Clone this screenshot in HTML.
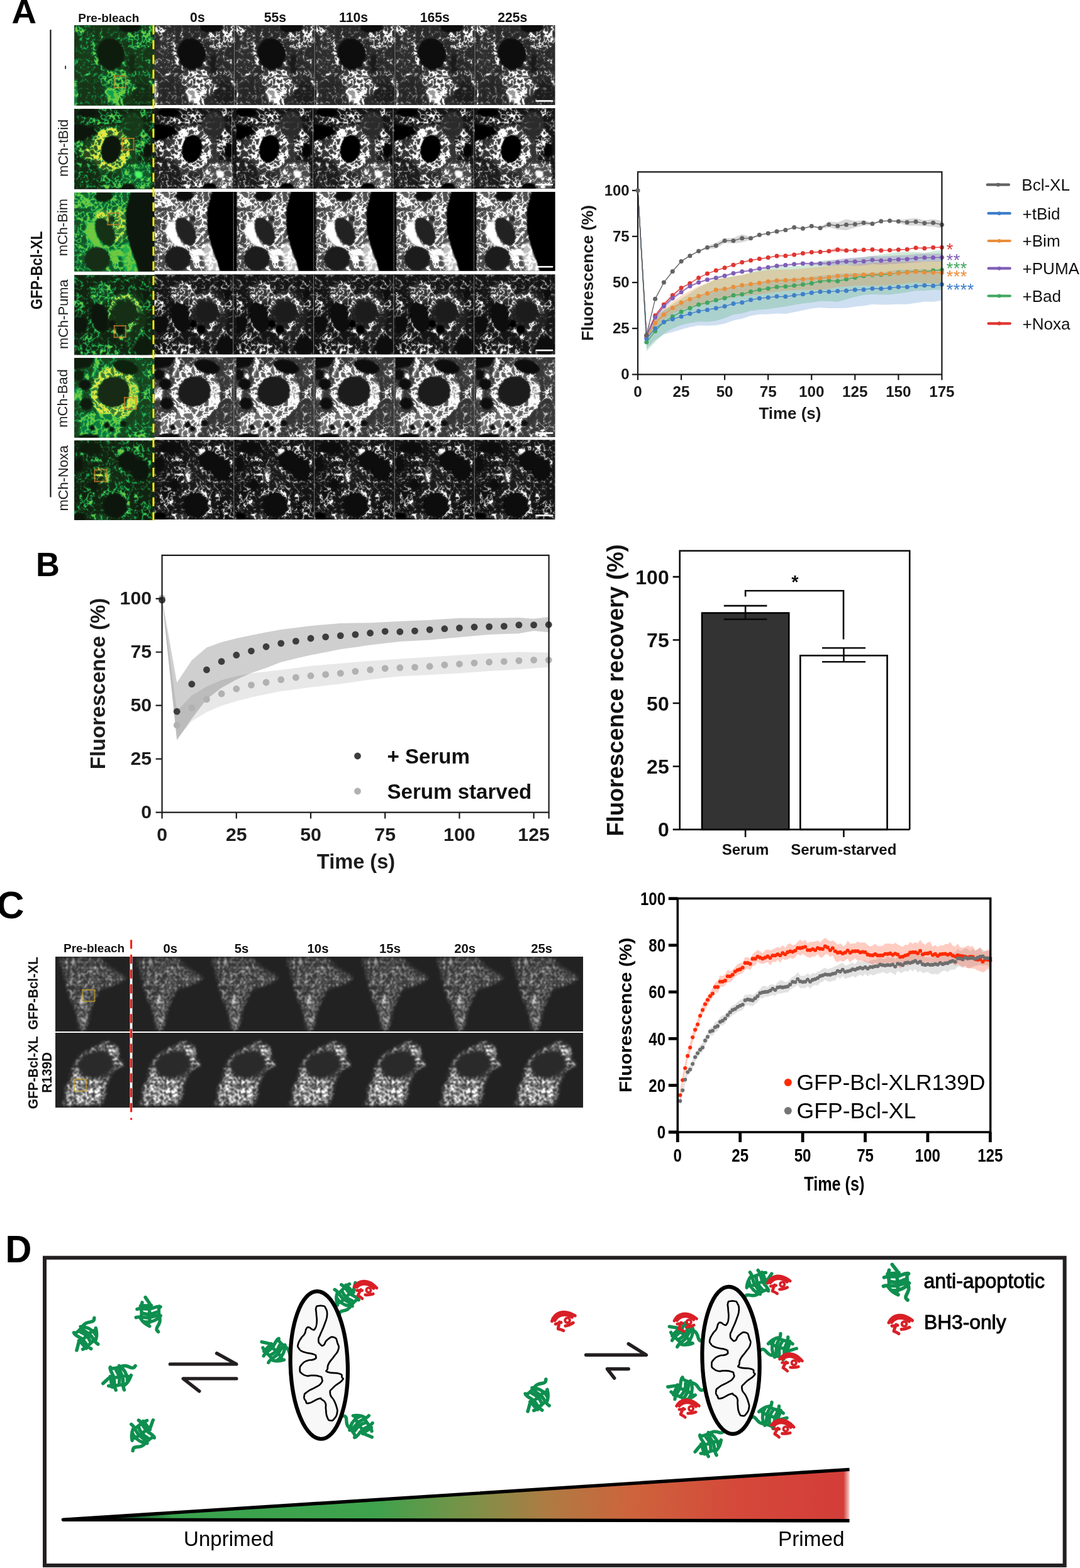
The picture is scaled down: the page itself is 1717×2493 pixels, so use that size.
<!DOCTYPE html>
<html lang="en">
<head>
<meta charset="utf-8">
<title>Figure: FRAP analysis of GFP-Bcl-XL</title>
<style>
html,body{margin:0;padding:0;background:#fff;}
body{width:1717px;height:2493px;overflow:hidden;}
svg{display:block;font-family:"Liberation Sans", Arial, Helvetica, sans-serif;}
</style>
</head>
<body>
<svg width="1717" height="2493" viewBox="0 0 1717 2493">
<defs>
<filter id="nb" x="-10%" y="-10%" width="120%" height="120%"><feGaussianBlur stdDeviation="1.1"/></filter>
<filter id="fa0" filterUnits="userSpaceOnUse" x="0" y="0" width="129.5" height="126.6" color-interpolation-filters="sRGB"><feGaussianBlur in="SourceGraphic" stdDeviation="1.6" result="D"/><feTurbulence type="fractalNoise" baseFrequency="0.09" numOctaves="2" seed="4"/><feComponentTransfer><feFuncR type="table" tableValues="0 0 0 0 0 0 0 0 0 0 0 0 0 0 0 0 0 0 0 0.5 1 0.5 0 0 0 0 0 0 0 0 0 0 0 0 0 0 0 0 0 0 0"/><feFuncG type="table" tableValues="0 0 0 0 0 0 0 0 0 0 0 0 0 0 0 0 0 0 0 0.5 1 0.5 0 0 0 0 0 0 0 0 0 0 0 0 0 0 0 0 0 0 0"/></feComponentTransfer><feColorMatrix type="matrix" values="1 1 0 0 0  1 1 0 0 0  1 1 0 0 0  0 0 0 0 1" result="T"/><feTurbulence type="fractalNoise" baseFrequency="0.035" numOctaves="2" seed="104"/><feColorMatrix type="matrix" values="1.32 0 0 0 0.34  1.32 0 0 0 0.34  1.32 0 0 0 0.34  0 0 0 0 1" result="N"/><feColorMatrix in="D" type="matrix" values="1 0 0 0 0  1 0 0 0 0  1 0 0 0 0  0 0 0 0 1" result="Dr"/><feComposite in="Dr" in2="N" operator="arithmetic" k1="1" k2="0" k3="0" k4="0" result="Dm"/><feColorMatrix in="D" type="matrix" values="0 1 0 0 0  0 1 0 0 0  0 1 0 0 0  0 0 0 0 1" result="Dg"/><feComposite in="T" in2="Dm" operator="arithmetic" k1="0" k2="4.5" k3="3.8" k4="-4.5" result="M"/><feGaussianBlur in="M" stdDeviation="0.9" result="Mb"/><feComposite in="M" in2="Mb" operator="arithmetic" k1="0" k2="0.4" k3="0.6" k4="0" result="M"/><feComposite in="M" in2="Dg" operator="arithmetic" k1="0" k2="1" k3="1" k4="0" result="L"/></filter>
<filter id="fg0" filterUnits="userSpaceOnUse" x="0" y="0" width="129.5" height="126.6" color-interpolation-filters="sRGB"><feGaussianBlur in="SourceGraphic" stdDeviation="1.6" result="D"/><feTurbulence type="fractalNoise" baseFrequency="0.09" numOctaves="2" seed="4"/><feComponentTransfer><feFuncR type="table" tableValues="0 0 0 0 0 0 0 0 0 0 0 0 0 0 0 0 0 0 0 0.5 1 0.5 0 0 0 0 0 0 0 0 0 0 0 0 0 0 0 0 0 0 0"/><feFuncG type="table" tableValues="0 0 0 0 0 0 0 0 0 0 0 0 0 0 0 0 0 0 0 0.5 1 0.5 0 0 0 0 0 0 0 0 0 0 0 0 0 0 0 0 0 0 0"/></feComponentTransfer><feColorMatrix type="matrix" values="1 1 0 0 0  1 1 0 0 0  1 1 0 0 0  0 0 0 0 1" result="T"/><feTurbulence type="fractalNoise" baseFrequency="0.035" numOctaves="2" seed="104"/><feColorMatrix type="matrix" values="1.32 0 0 0 0.34  1.32 0 0 0 0.34  1.32 0 0 0 0.34  0 0 0 0 1" result="N"/><feColorMatrix in="D" type="matrix" values="1 0 0 0 0  1 0 0 0 0  1 0 0 0 0  0 0 0 0 1" result="Dr"/><feComposite in="Dr" in2="N" operator="arithmetic" k1="1" k2="0" k3="0" k4="0" result="Dm"/><feColorMatrix in="D" type="matrix" values="0 1 0 0 0  0 1 0 0 0  0 1 0 0 0  0 0 0 0 1" result="Dg"/><feComposite in="T" in2="Dm" operator="arithmetic" k1="0" k2="4.5" k3="3.8" k4="-4.5" result="M"/><feGaussianBlur in="M" stdDeviation="0.9" result="Mb"/><feComposite in="M" in2="Mb" operator="arithmetic" k1="0" k2="0.4" k3="0.6" k4="0" result="M"/><feComposite in="M" in2="Dg" operator="arithmetic" k1="0" k2="1" k3="1" k4="0" result="L"/><feColorMatrix in="D" type="matrix" values="0 0 1 0 0  0 0 1 0 0  0 0 1 0 0  0 0 0 0 1" result="Db"/><feComposite in="L" in2="Db" operator="arithmetic" k1="1" k2="0" k3="0" k4="0" result="LY"/><feColorMatrix in="LY" type="matrix" values="0.55 0 0 0 0  0 0.14 0 0 0  0 0 0 0 0  0 0 0 0 1" result="LYr"/><feComponentTransfer in="L" result="Lg"><feFuncR type="table" tableValues="0.05 0.1 0.07 0.06 0.2 0.43"/><feFuncG type="table" tableValues="0.07 0.25 0.45 0.63 0.72 0.79"/><feFuncB type="table" tableValues="0.04 0.11 0.22 0.31 0.3 0.25"/></feComponentTransfer><feComposite in="Lg" in2="LYr" operator="arithmetic" k1="0" k2="1" k3="1" k4="0"/></filter>
<g id="ta0"><rect x="-4" y="-4" width="137.5" height="134.6" fill="#1c2900"/><ellipse cx="17.84" cy="51.92" rx="16.04" ry="36.89" fill="#3d2e00"/><ellipse cx="29.87" cy="108.06" rx="19.25" ry="20.05" fill="#212600"/><ellipse cx="111.67" cy="108.06" rx="18.44" ry="20.85" fill="#1a1c00"/><ellipse cx="94.03" cy="60.75" rx="7.22" ry="14.43" fill="#0d1a00"/><path d="M1 1.4 L28.27 1.4 L19.45 9.42 L9.02 15.84 L1 14.23Z" fill="#992e00"/><path d="M39.49 4.61 L44.31 18.24 L55.53 15.04 L67.56 13.43" fill="none" stroke="#a62900" stroke-width="4.41" stroke-linecap="round" stroke-linejoin="round"/><path d="M85.2 12.63 L106.05 9.42 L111.67 1.4 L127.71 1.4 L127.71 26.26 L111.67 41.5 L89.21 35.89Z" fill="#b82e00"/><ellipse cx="106.86" cy="49.52" rx="5.61" ry="3.21" fill="#cc3300" transform="rotate(-30 106.86 49.52)"/><ellipse cx="119.69" cy="57.54" rx="4.01" ry="4.81" fill="#b23300"/><path d="M97.23 76.78 L111.67 74.38 L124.5 83.2" fill="none" stroke="#cc2e00" stroke-width="4.81" stroke-linecap="round" stroke-linejoin="round"/><ellipse cx="125.3" cy="92.02" rx="2.41" ry="4.81" fill="#e66600"/><path d="M37.89 78.39 L67.56 67.96 L83.6 71.97 L88.41 84 L100.44 96.03 L95.63 104.85 L80.39 108.86 L77.99 128.11 L65.16 128.11 L49.12 100.04Z" fill="#eb3d00"/><ellipse cx="61.15" cy="110.47" rx="9.62" ry="12.03" fill="#ff9900" transform="rotate(-25 61.15 110.47)"/><path d="M29.87 15.04 L29.07 31.88 L34.68 49.52 L41.1 62.35 L49.12 68.77" fill="none" stroke="#f23300" stroke-width="4.81" stroke-linecap="round" stroke-linejoin="round"/><path d="M71.57 18.24 L79.59 33.48 L83.6 49.52 L81.19 61.55" fill="none" stroke="#b22900" stroke-width="2.25" stroke-linecap="round" stroke-linejoin="round"/><ellipse cx="80.39" cy="60.75" rx="3.21" ry="3.21" fill="#ff6600"/><ellipse cx="1.4" cy="106.46" rx="2.81" ry="22.45" fill="#ff8000"/><ellipse cx="58.74" cy="45.51" rx="21.25" ry="24.06" fill="#000900" transform="rotate(-12 58.74 45.51)"/><ellipse cx="90.02" cy="3.01" rx="16.84" ry="8.02" fill="#000800"/></g>
<g id="na0" filter="url(#nb)"><ellipse cx="58.74" cy="45.51" rx="21.25" ry="24.06" transform="rotate(-12 58.74 45.51)" fill="#090909"/><ellipse cx="90.02" cy="3.01" rx="16.84" ry="8.02" fill="#080808"/></g>
<g id="ng0" filter="url(#nb)"><ellipse cx="58.74" cy="45.51" rx="21.25" ry="24.06" transform="rotate(-12 58.74 45.51)" fill="#0f1a0d"/><ellipse cx="90.02" cy="3.01" rx="16.84" ry="8.02" fill="#0f190d"/></g>
<filter id="fa1" filterUnits="userSpaceOnUse" x="0" y="0" width="129.5" height="126.6" color-interpolation-filters="sRGB"><feGaussianBlur in="SourceGraphic" stdDeviation="1.6" result="D"/><feTurbulence type="fractalNoise" baseFrequency="0.09" numOctaves="2" seed="11"/><feComponentTransfer><feFuncR type="table" tableValues="0 0 0 0 0 0 0 0 0 0 0 0 0 0 0 0 0 0 0 0.5 1 0.5 0 0 0 0 0 0 0 0 0 0 0 0 0 0 0 0 0 0 0"/><feFuncG type="table" tableValues="0 0 0 0 0 0 0 0 0 0 0 0 0 0 0 0 0 0 0 0.5 1 0.5 0 0 0 0 0 0 0 0 0 0 0 0 0 0 0 0 0 0 0"/></feComponentTransfer><feColorMatrix type="matrix" values="1 1 0 0 0  1 1 0 0 0  1 1 0 0 0  0 0 0 0 1" result="T"/><feTurbulence type="fractalNoise" baseFrequency="0.035" numOctaves="2" seed="111"/><feColorMatrix type="matrix" values="1.32 0 0 0 0.34  1.32 0 0 0 0.34  1.32 0 0 0 0.34  0 0 0 0 1" result="N"/><feColorMatrix in="D" type="matrix" values="1 0 0 0 0  1 0 0 0 0  1 0 0 0 0  0 0 0 0 1" result="Dr"/><feComposite in="Dr" in2="N" operator="arithmetic" k1="1" k2="0" k3="0" k4="0" result="Dm"/><feColorMatrix in="D" type="matrix" values="0 1 0 0 0  0 1 0 0 0  0 1 0 0 0  0 0 0 0 1" result="Dg"/><feComposite in="T" in2="Dm" operator="arithmetic" k1="0" k2="4.5" k3="3.8" k4="-4.5" result="M"/><feGaussianBlur in="M" stdDeviation="0.9" result="Mb"/><feComposite in="M" in2="Mb" operator="arithmetic" k1="0" k2="0.4" k3="0.6" k4="0" result="M"/><feComposite in="M" in2="Dg" operator="arithmetic" k1="0" k2="1" k3="1" k4="0" result="L"/></filter>
<filter id="fg1" filterUnits="userSpaceOnUse" x="0" y="0" width="129.5" height="126.6" color-interpolation-filters="sRGB"><feGaussianBlur in="SourceGraphic" stdDeviation="1.6" result="D"/><feTurbulence type="fractalNoise" baseFrequency="0.09" numOctaves="2" seed="11"/><feComponentTransfer><feFuncR type="table" tableValues="0 0 0 0 0 0 0 0 0 0 0 0 0 0 0 0 0 0 0 0.5 1 0.5 0 0 0 0 0 0 0 0 0 0 0 0 0 0 0 0 0 0 0"/><feFuncG type="table" tableValues="0 0 0 0 0 0 0 0 0 0 0 0 0 0 0 0 0 0 0 0.5 1 0.5 0 0 0 0 0 0 0 0 0 0 0 0 0 0 0 0 0 0 0"/></feComponentTransfer><feColorMatrix type="matrix" values="1 1 0 0 0  1 1 0 0 0  1 1 0 0 0  0 0 0 0 1" result="T"/><feTurbulence type="fractalNoise" baseFrequency="0.035" numOctaves="2" seed="111"/><feColorMatrix type="matrix" values="1.32 0 0 0 0.34  1.32 0 0 0 0.34  1.32 0 0 0 0.34  0 0 0 0 1" result="N"/><feColorMatrix in="D" type="matrix" values="1 0 0 0 0  1 0 0 0 0  1 0 0 0 0  0 0 0 0 1" result="Dr"/><feComposite in="Dr" in2="N" operator="arithmetic" k1="1" k2="0" k3="0" k4="0" result="Dm"/><feColorMatrix in="D" type="matrix" values="0 1 0 0 0  0 1 0 0 0  0 1 0 0 0  0 0 0 0 1" result="Dg"/><feComposite in="T" in2="Dm" operator="arithmetic" k1="0" k2="4.5" k3="3.8" k4="-4.5" result="M"/><feGaussianBlur in="M" stdDeviation="0.9" result="Mb"/><feComposite in="M" in2="Mb" operator="arithmetic" k1="0" k2="0.4" k3="0.6" k4="0" result="M"/><feComposite in="M" in2="Dg" operator="arithmetic" k1="0" k2="1" k3="1" k4="0" result="L"/><feColorMatrix in="D" type="matrix" values="0 0 1 0 0  0 0 1 0 0  0 0 1 0 0  0 0 0 0 1" result="Db"/><feComposite in="L" in2="Db" operator="arithmetic" k1="1" k2="0" k3="0" k4="0" result="LY"/><feColorMatrix in="LY" type="matrix" values="0.55 0 0 0 0  0 0.14 0 0 0  0 0 0 0 0  0 0 0 0 1" result="LYr"/><feComponentTransfer in="L" result="Lg"><feFuncR type="table" tableValues="0.05 0.1 0.07 0.06 0.2 0.43"/><feFuncG type="table" tableValues="0.07 0.25 0.45 0.63 0.72 0.79"/><feFuncB type="table" tableValues="0.04 0.11 0.22 0.31 0.3 0.25"/></feComponentTransfer><feComposite in="Lg" in2="LYr" operator="arithmetic" k1="0" k2="1" k3="1" k4="0"/></filter>
<g id="ta1"><rect x="-4" y="-4" width="137.5" height="134.6" fill="#261400"/><ellipse cx="59.54" cy="66.08" rx="45.71" ry="43.3" fill="#1a3300"/><ellipse cx="17.04" cy="103.77" rx="24.06" ry="24.06" fill="#3d1c00"/><path d="M9.82 14.76 L23.46 17.16 L35.49 19.57 L42.7 24.38" fill="none" stroke="#e61f00" stroke-width="8.02" stroke-linecap="round" stroke-linejoin="round"/><path d="M37.89 1.12 L75.58 1.12 L77.99 15.56 L71.57 25.98 L41.1 25.98Z" fill="#a61400"/><path d="M23.46 46.03 L31.48 38.01 L39.49 32.4" fill="none" stroke="#b21a00" stroke-width="7.22" stroke-linecap="round" stroke-linejoin="round"/><ellipse cx="8.22" cy="62.07" rx="10.43" ry="12.83" fill="#f22600"/><ellipse cx="110.06" cy="55.65" rx="12.03" ry="22.45" fill="#8c1a00"/><path d="M103.65 -0.48 L124.5 -0.48 L124.5 20.37 L111.67 15.56Z" fill="#991400"/><ellipse cx="58.74" cy="63.67" rx="32.08" ry="34.48" fill="#ff3dd9"/><ellipse cx="25.86" cy="70.09" rx="13.63" ry="10.43" fill="#f233cc"/><ellipse cx="94.03" cy="25.98" rx="18.44" ry="20.85" fill="#122b00"/><ellipse cx="59.54" cy="114.19" rx="17.64" ry="12.83" fill="#d92600"/><path d="M77.99 94.15 L91.62 86.13 L115.68 83.72 L124.5 91.74 L124.5 127.83 L79.59 127.83 L75.58 107.78Z" fill="#804c00"/><ellipse cx="118.08" cy="66.08" rx="7.22" ry="12.03" fill="#000300"/><ellipse cx="59.54" cy="63.67" rx="15.24" ry="22.05" fill="#000500" transform="rotate(12 59.54 63.67)"/><ellipse cx="22.65" cy="6.74" rx="16.04" ry="6.26" fill="#000000"/><path d="M-0.6 25.98 L31.48 29.99 L35.49 38.01 L15.44 47.63 L-0.6 50.84Z" fill="#000000"/><ellipse cx="87.61" cy="125.42" rx="10.43" ry="7.22" fill="#000000"/><ellipse cx="104.45" cy="103.77" rx="6.01" ry="4.97" fill="#00ff00" transform="rotate(30 104.45 103.77)"/></g>
<g id="na1" filter="url(#nb)"><ellipse cx="59.54" cy="63.67" rx="15.24" ry="22.05" transform="rotate(12 59.54 63.67)" fill="#050505"/><ellipse cx="22.65" cy="6.74" rx="16.04" ry="6.26" fill="#000000"/><path d="M-0.6 25.98 L31.48 29.99 L35.49 38.01 L15.44 47.63 L-0.6 50.84Z" fill="#000000"/><ellipse cx="87.61" cy="125.42" rx="10.43" ry="7.22" fill="#000000"/><ellipse cx="104.45" cy="103.77" rx="6.01" ry="4.97" transform="rotate(30 104.45 103.77)" fill="#ffffff"/></g>
<g id="ng1" filter="url(#nb)"><ellipse cx="59.54" cy="63.67" rx="15.24" ry="22.05" transform="rotate(12 59.54 63.67)" fill="#0e160c"/><ellipse cx="22.65" cy="6.74" rx="16.04" ry="6.26" fill="#0d120a"/><path d="M-0.6 25.98 L31.48 29.99 L35.49 38.01 L15.44 47.63 L-0.6 50.84Z" fill="#0d120a"/><ellipse cx="87.61" cy="125.42" rx="10.43" ry="7.22" fill="#0d120a"/><ellipse cx="104.45" cy="103.77" rx="6.01" ry="4.97" transform="rotate(30 104.45 103.77)" fill="#4cf763"/></g>
<filter id="fa2" filterUnits="userSpaceOnUse" x="0" y="0" width="129.5" height="126.6" color-interpolation-filters="sRGB"><feGaussianBlur in="SourceGraphic" stdDeviation="1.6" result="D"/><feTurbulence type="fractalNoise" baseFrequency="0.09" numOctaves="2" seed="23"/><feComponentTransfer><feFuncR type="table" tableValues="0 0 0 0 0 0 0 0 0 0 0 0 0 0 0 0 0 0 0 0.5 1 0.5 0 0 0 0 0 0 0 0 0 0 0 0 0 0 0 0 0 0 0"/><feFuncG type="table" tableValues="0 0 0 0 0 0 0 0 0 0 0 0 0 0 0 0 0 0 0 0.5 1 0.5 0 0 0 0 0 0 0 0 0 0 0 0 0 0 0 0 0 0 0"/></feComponentTransfer><feColorMatrix type="matrix" values="1 1 0 0 0  1 1 0 0 0  1 1 0 0 0  0 0 0 0 1" result="T"/><feTurbulence type="fractalNoise" baseFrequency="0.035" numOctaves="2" seed="123"/><feColorMatrix type="matrix" values="1.32 0 0 0 0.34  1.32 0 0 0 0.34  1.32 0 0 0 0.34  0 0 0 0 1" result="N"/><feColorMatrix in="D" type="matrix" values="1 0 0 0 0  1 0 0 0 0  1 0 0 0 0  0 0 0 0 1" result="Dr"/><feComposite in="Dr" in2="N" operator="arithmetic" k1="1" k2="0" k3="0" k4="0" result="Dm"/><feColorMatrix in="D" type="matrix" values="0 1 0 0 0  0 1 0 0 0  0 1 0 0 0  0 0 0 0 1" result="Dg"/><feComposite in="T" in2="Dm" operator="arithmetic" k1="0" k2="4.5" k3="3.8" k4="-4.5" result="M"/><feGaussianBlur in="M" stdDeviation="0.9" result="Mb"/><feComposite in="M" in2="Mb" operator="arithmetic" k1="0" k2="0.4" k3="0.6" k4="0" result="M"/><feComposite in="M" in2="Dg" operator="arithmetic" k1="0" k2="1" k3="1" k4="0" result="L"/></filter>
<filter id="fg2" filterUnits="userSpaceOnUse" x="0" y="0" width="129.5" height="126.6" color-interpolation-filters="sRGB"><feGaussianBlur in="SourceGraphic" stdDeviation="1.6" result="D"/><feTurbulence type="fractalNoise" baseFrequency="0.09" numOctaves="2" seed="23"/><feComponentTransfer><feFuncR type="table" tableValues="0 0 0 0 0 0 0 0 0 0 0 0 0 0 0 0 0 0 0 0.5 1 0.5 0 0 0 0 0 0 0 0 0 0 0 0 0 0 0 0 0 0 0"/><feFuncG type="table" tableValues="0 0 0 0 0 0 0 0 0 0 0 0 0 0 0 0 0 0 0 0.5 1 0.5 0 0 0 0 0 0 0 0 0 0 0 0 0 0 0 0 0 0 0"/></feComponentTransfer><feColorMatrix type="matrix" values="1 1 0 0 0  1 1 0 0 0  1 1 0 0 0  0 0 0 0 1" result="T"/><feTurbulence type="fractalNoise" baseFrequency="0.035" numOctaves="2" seed="123"/><feColorMatrix type="matrix" values="1.32 0 0 0 0.34  1.32 0 0 0 0.34  1.32 0 0 0 0.34  0 0 0 0 1" result="N"/><feColorMatrix in="D" type="matrix" values="1 0 0 0 0  1 0 0 0 0  1 0 0 0 0  0 0 0 0 1" result="Dr"/><feComposite in="Dr" in2="N" operator="arithmetic" k1="1" k2="0" k3="0" k4="0" result="Dm"/><feColorMatrix in="D" type="matrix" values="0 1 0 0 0  0 1 0 0 0  0 1 0 0 0  0 0 0 0 1" result="Dg"/><feComposite in="T" in2="Dm" operator="arithmetic" k1="0" k2="4.5" k3="3.8" k4="-4.5" result="M"/><feGaussianBlur in="M" stdDeviation="0.9" result="Mb"/><feComposite in="M" in2="Mb" operator="arithmetic" k1="0" k2="0.4" k3="0.6" k4="0" result="M"/><feComposite in="M" in2="Dg" operator="arithmetic" k1="0" k2="1" k3="1" k4="0" result="L"/><feColorMatrix in="D" type="matrix" values="0 0 1 0 0  0 0 1 0 0  0 0 1 0 0  0 0 0 0 1" result="Db"/><feComposite in="L" in2="Db" operator="arithmetic" k1="1" k2="0" k3="0" k4="0" result="LY"/><feColorMatrix in="LY" type="matrix" values="0.55 0 0 0 0  0 0.14 0 0 0  0 0 0 0 0  0 0 0 0 1" result="LYr"/><feComponentTransfer in="L" result="Lg"><feFuncR type="table" tableValues="0.05 0.1 0.07 0.06 0.2 0.43"/><feFuncG type="table" tableValues="0.07 0.25 0.45 0.63 0.72 0.79"/><feFuncB type="table" tableValues="0.04 0.11 0.22 0.31 0.3 0.25"/></feComponentTransfer><feComposite in="Lg" in2="LYr" operator="arithmetic" k1="0" k2="1" k3="1" k4="0"/></filter>
<g id="ta2"><rect x="-4" y="-4" width="137.5" height="134.6" fill="#cc4c00"/><path d="M-0.6 23.34 L19.45 24.94 L17.84 87.49 L-0.6 87.49Z" fill="#8c4200"/><path d="M-0.6 87.49 L17.84 87.49 L17.84 127.59 L-0.6 127.59Z" fill="#994700"/><ellipse cx="15.44" cy="12.11" rx="16.04" ry="12.03" fill="#f25900"/><ellipse cx="41.1" cy="32.96" rx="7.22" ry="6.42" fill="#99e600"/><ellipse cx="51.52" cy="37.77" rx="16.04" ry="9.62" fill="#ff66cc"/><ellipse cx="71.57" cy="53.81" rx="12.83" ry="26.46" fill="#f25999"/><path d="M21.85 49 L31.48 45.79 L35.49 55.41 L37.09 71.45 L44.31 83.48 L49.92 87.49 L39.49 89.49 L29.87 83.48 L20.25 71.45 L17.84 61.83Z" fill="#4cff00"/><ellipse cx="68.36" cy="97.11" rx="12.03" ry="5.61" fill="#80e600"/><path d="M79.59 83.48 L89.21 79.47 L95.63 99.52 L102.85 117.96 L105.25 127.59 L83.6 127.59 L76.38 103.53Z" fill="#99bf00"/><ellipse cx="61.15" cy="42.58" rx="5.61" ry="4.81" fill="#0d2600"/><path d="M93.22 -2.33 L87.61 15.32 L84.56 31.36 L84.4 55.41 L87.61 75.46 L94.03 95.51 L101.24 115.56 L105.25 129.19 L130.91 129.19 L130.91 -2.33Z" fill="#000100"/><ellipse cx="49.92" cy="63.43" rx="13.47" ry="23.1" fill="#002100" transform="rotate(-27 49.92 63.43)"/><ellipse cx="37.09" cy="107.14" rx="20.05" ry="19.09" fill="#001f00"/><ellipse cx="47.51" cy="6.09" rx="13.63" ry="8.02" fill="#000f00"/></g>
<g id="na2" filter="url(#nb)"><path d="M93.22 -2.33 L87.61 15.32 L84.56 31.36 L84.4 55.41 L87.61 75.46 L94.03 95.51 L101.24 115.56 L105.25 129.19 L130.91 129.19 L130.91 -2.33Z" fill="#010101"/><ellipse cx="49.92" cy="63.43" rx="13.47" ry="23.1" transform="rotate(-27 49.92 63.43)" fill="#212121"/><ellipse cx="37.09" cy="107.14" rx="20.05" ry="19.09" fill="#1f1f1f"/><ellipse cx="47.51" cy="6.09" rx="13.63" ry="8.02" fill="#0f0f0f"/></g>
<g id="ng2" filter="url(#nb)"><path d="M93.22 -2.33 L87.61 15.32 L84.56 31.36 L84.4 55.41 L87.61 75.46 L94.03 95.51 L101.24 115.56 L105.25 129.19 L130.91 129.19 L130.91 -2.33Z" fill="#0d130b"/><ellipse cx="49.92" cy="63.43" rx="13.47" ry="23.1" transform="rotate(-27 49.92 63.43)" fill="#153016"/><ellipse cx="37.09" cy="107.14" rx="20.05" ry="19.09" fill="#142d15"/><ellipse cx="47.51" cy="6.09" rx="13.63" ry="8.02" fill="#112010"/></g>
<filter id="fa3" filterUnits="userSpaceOnUse" x="0" y="0" width="129.5" height="126.6" color-interpolation-filters="sRGB"><feGaussianBlur in="SourceGraphic" stdDeviation="1.6" result="D"/><feTurbulence type="fractalNoise" baseFrequency="0.09" numOctaves="2" seed="37"/><feComponentTransfer><feFuncR type="table" tableValues="0 0 0 0 0 0 0 0 0 0 0 0 0 0 0 0 0 0 0 0.5 1 0.5 0 0 0 0 0 0 0 0 0 0 0 0 0 0 0 0 0 0 0"/><feFuncG type="table" tableValues="0 0 0 0 0 0 0 0 0 0 0 0 0 0 0 0 0 0 0 0.5 1 0.5 0 0 0 0 0 0 0 0 0 0 0 0 0 0 0 0 0 0 0"/></feComponentTransfer><feColorMatrix type="matrix" values="1 1 0 0 0  1 1 0 0 0  1 1 0 0 0  0 0 0 0 1" result="T"/><feTurbulence type="fractalNoise" baseFrequency="0.035" numOctaves="2" seed="137"/><feColorMatrix type="matrix" values="1.32 0 0 0 0.34  1.32 0 0 0 0.34  1.32 0 0 0 0.34  0 0 0 0 1" result="N"/><feColorMatrix in="D" type="matrix" values="1 0 0 0 0  1 0 0 0 0  1 0 0 0 0  0 0 0 0 1" result="Dr"/><feComposite in="Dr" in2="N" operator="arithmetic" k1="1" k2="0" k3="0" k4="0" result="Dm"/><feColorMatrix in="D" type="matrix" values="0 1 0 0 0  0 1 0 0 0  0 1 0 0 0  0 0 0 0 1" result="Dg"/><feComposite in="T" in2="Dm" operator="arithmetic" k1="0" k2="4.5" k3="3.8" k4="-4.5" result="M"/><feGaussianBlur in="M" stdDeviation="0.9" result="Mb"/><feComposite in="M" in2="Mb" operator="arithmetic" k1="0" k2="0.4" k3="0.6" k4="0" result="M"/><feComposite in="M" in2="Dg" operator="arithmetic" k1="0" k2="1" k3="1" k4="0" result="L"/></filter>
<filter id="fg3" filterUnits="userSpaceOnUse" x="0" y="0" width="129.5" height="126.6" color-interpolation-filters="sRGB"><feGaussianBlur in="SourceGraphic" stdDeviation="1.6" result="D"/><feTurbulence type="fractalNoise" baseFrequency="0.09" numOctaves="2" seed="37"/><feComponentTransfer><feFuncR type="table" tableValues="0 0 0 0 0 0 0 0 0 0 0 0 0 0 0 0 0 0 0 0.5 1 0.5 0 0 0 0 0 0 0 0 0 0 0 0 0 0 0 0 0 0 0"/><feFuncG type="table" tableValues="0 0 0 0 0 0 0 0 0 0 0 0 0 0 0 0 0 0 0 0.5 1 0.5 0 0 0 0 0 0 0 0 0 0 0 0 0 0 0 0 0 0 0"/></feComponentTransfer><feColorMatrix type="matrix" values="1 1 0 0 0  1 1 0 0 0  1 1 0 0 0  0 0 0 0 1" result="T"/><feTurbulence type="fractalNoise" baseFrequency="0.035" numOctaves="2" seed="137"/><feColorMatrix type="matrix" values="1.32 0 0 0 0.34  1.32 0 0 0 0.34  1.32 0 0 0 0.34  0 0 0 0 1" result="N"/><feColorMatrix in="D" type="matrix" values="1 0 0 0 0  1 0 0 0 0  1 0 0 0 0  0 0 0 0 1" result="Dr"/><feComposite in="Dr" in2="N" operator="arithmetic" k1="1" k2="0" k3="0" k4="0" result="Dm"/><feColorMatrix in="D" type="matrix" values="0 1 0 0 0  0 1 0 0 0  0 1 0 0 0  0 0 0 0 1" result="Dg"/><feComposite in="T" in2="Dm" operator="arithmetic" k1="0" k2="4.5" k3="3.8" k4="-4.5" result="M"/><feGaussianBlur in="M" stdDeviation="0.9" result="Mb"/><feComposite in="M" in2="Mb" operator="arithmetic" k1="0" k2="0.4" k3="0.6" k4="0" result="M"/><feComposite in="M" in2="Dg" operator="arithmetic" k1="0" k2="1" k3="1" k4="0" result="L"/><feColorMatrix in="D" type="matrix" values="0 0 1 0 0  0 0 1 0 0  0 0 1 0 0  0 0 0 0 1" result="Db"/><feComposite in="L" in2="Db" operator="arithmetic" k1="1" k2="0" k3="0" k4="0" result="LY"/><feColorMatrix in="LY" type="matrix" values="0.55 0 0 0 0  0 0.14 0 0 0  0 0 0 0 0  0 0 0 0 1" result="LYr"/><feComponentTransfer in="L" result="Lg"><feFuncR type="table" tableValues="0.05 0.1 0.07 0.06 0.2 0.43"/><feFuncG type="table" tableValues="0.07 0.25 0.45 0.63 0.72 0.79"/><feFuncB type="table" tableValues="0.04 0.11 0.22 0.31 0.3 0.25"/></feComponentTransfer><feComposite in="Lg" in2="LYr" operator="arithmetic" k1="0" k2="1" k3="1" k4="0"/></filter>
<g id="ta3"><rect x="-4" y="-4" width="137.5" height="134.6" fill="#2b1400"/><ellipse cx="86.01" cy="63.15" rx="31.28" ry="39.29" fill="#1a2100"/><ellipse cx="44.31" cy="29.47" rx="19.25" ry="16.84" fill="#d93300"/><ellipse cx="7.42" cy="47.11" rx="8.82" ry="18.44" fill="#bf1a00"/><path d="M67.56 8.62 L73.98 3.81 L79.59 3.01" fill="none" stroke="#cc1400" stroke-width="4.01" stroke-linecap="round" stroke-linejoin="round"/><path d="M83.6 7.82 L99.64 4.61" fill="none" stroke="#b21400" stroke-width="3.21" stroke-linecap="round" stroke-linejoin="round"/><ellipse cx="111.67" cy="15.04" rx="9.62" ry="8.82" fill="#8c0f00"/><ellipse cx="118.08" cy="47.11" rx="4.81" ry="6.82" fill="#bf1400"/><path d="M60.34 50.32 L63.55 40.7 L71.57 35.08 L87.61 33.48 L100.44 43.91 L106.86 56.74" fill="none" stroke="#ff4cb2" stroke-width="6.82" stroke-linecap="round" stroke-linejoin="round"/><path d="M86.81 84 L102.04 71.97" fill="none" stroke="#ff2680" stroke-width="6.82" stroke-linecap="round" stroke-linejoin="round"/><ellipse cx="75.58" cy="97.63" rx="5.61" ry="4.81" fill="#ff3366"/><path d="M57.14 55.13 L55.53 67.16 L60.34 85.61 L71.57 95.23" fill="none" stroke="#e61f99" stroke-width="4.81" stroke-linecap="round" stroke-linejoin="round"/><path d="M25.86 71.17 L37.09 88.81 L42.7 98.44" fill="none" stroke="#ff4000" stroke-width="2.41" stroke-linecap="round" stroke-linejoin="round"/><ellipse cx="23.46" cy="97.63" rx="10.43" ry="6.42" fill="#d91a00"/><path d="M-0.6 107.26 L31.48 107.26 L33.08 127.31 L-0.6 127.31Z" fill="#a60f00"/><path d="M35.49 111.27 L71.57 111.27 L75.58 127.31 L35.49 127.31Z" fill="#bf1a00"/><path d="M111.67 83.2 L100.44 103.25 L89.21 120.89" fill="none" stroke="#ff4000" stroke-width="2.73" stroke-linecap="round" stroke-linejoin="round"/><ellipse cx="111.67" cy="91.22" rx="4.81" ry="3.21" fill="#800f00"/><ellipse cx="83.6" cy="58.74" rx="18.04" ry="15.64" fill="#001f00"/><ellipse cx="41.1" cy="67.16" rx="13.23" ry="22.45" fill="#000800" transform="rotate(-12 41.1 67.16)"/><ellipse cx="61.15" cy="77.59" rx="5.45" ry="5.45" fill="#000300"/><ellipse cx="73.98" cy="86.41" rx="6.26" ry="6.26" fill="#000500"/><ellipse cx="9.02" cy="78.39" rx="12.03" ry="12.03" fill="#000800"/><ellipse cx="112.47" cy="113.67" rx="14.43" ry="14.43" fill="#000a00"/><ellipse cx="116.48" cy="31.07" rx="5.61" ry="5.61" fill="#000a00"/></g>
<g id="na3" filter="url(#nb)"><ellipse cx="83.6" cy="58.74" rx="18.04" ry="15.64" fill="#1f1f1f"/><ellipse cx="41.1" cy="67.16" rx="13.23" ry="22.45" transform="rotate(-12 41.1 67.16)" fill="#080808"/><ellipse cx="61.15" cy="77.59" rx="5.45" ry="5.45" fill="#030303"/><ellipse cx="73.98" cy="86.41" rx="6.26" ry="6.26" fill="#050505"/><ellipse cx="9.02" cy="78.39" rx="12.03" ry="12.03" fill="#080808"/><ellipse cx="112.47" cy="113.67" rx="14.43" ry="14.43" fill="#0a0a0a"/><ellipse cx="116.48" cy="31.07" rx="5.61" ry="5.61" fill="#0a0a0a"/></g>
<g id="ng3" filter="url(#nb)"><ellipse cx="83.6" cy="58.74" rx="18.04" ry="15.64" fill="#142d15"/><ellipse cx="41.1" cy="67.16" rx="13.23" ry="22.45" transform="rotate(-12 41.1 67.16)" fill="#0f190d"/><ellipse cx="61.15" cy="77.59" rx="5.45" ry="5.45" fill="#0d140b"/><ellipse cx="73.98" cy="86.41" rx="6.26" ry="6.26" fill="#0e160c"/><ellipse cx="9.02" cy="78.39" rx="12.03" ry="12.03" fill="#0f190d"/><ellipse cx="112.47" cy="113.67" rx="14.43" ry="14.43" fill="#0f1b0e"/><ellipse cx="116.48" cy="31.07" rx="5.61" ry="5.61" fill="#0f1b0e"/></g>
<filter id="fa4" filterUnits="userSpaceOnUse" x="0" y="0" width="129.5" height="126.6" color-interpolation-filters="sRGB"><feGaussianBlur in="SourceGraphic" stdDeviation="1.6" result="D"/><feTurbulence type="fractalNoise" baseFrequency="0.09" numOctaves="2" seed="41"/><feComponentTransfer><feFuncR type="table" tableValues="0 0 0 0 0 0 0 0 0 0 0 0 0 0 0 0 0 0 0 0.5 1 0.5 0 0 0 0 0 0 0 0 0 0 0 0 0 0 0 0 0 0 0"/><feFuncG type="table" tableValues="0 0 0 0 0 0 0 0 0 0 0 0 0 0 0 0 0 0 0 0.5 1 0.5 0 0 0 0 0 0 0 0 0 0 0 0 0 0 0 0 0 0 0"/></feComponentTransfer><feColorMatrix type="matrix" values="1 1 0 0 0  1 1 0 0 0  1 1 0 0 0  0 0 0 0 1" result="T"/><feTurbulence type="fractalNoise" baseFrequency="0.035" numOctaves="2" seed="141"/><feColorMatrix type="matrix" values="1.32 0 0 0 0.34  1.32 0 0 0 0.34  1.32 0 0 0 0.34  0 0 0 0 1" result="N"/><feColorMatrix in="D" type="matrix" values="1 0 0 0 0  1 0 0 0 0  1 0 0 0 0  0 0 0 0 1" result="Dr"/><feComposite in="Dr" in2="N" operator="arithmetic" k1="1" k2="0" k3="0" k4="0" result="Dm"/><feColorMatrix in="D" type="matrix" values="0 1 0 0 0  0 1 0 0 0  0 1 0 0 0  0 0 0 0 1" result="Dg"/><feComposite in="T" in2="Dm" operator="arithmetic" k1="0" k2="4.5" k3="3.8" k4="-4.5" result="M"/><feGaussianBlur in="M" stdDeviation="0.9" result="Mb"/><feComposite in="M" in2="Mb" operator="arithmetic" k1="0" k2="0.4" k3="0.6" k4="0" result="M"/><feComposite in="M" in2="Dg" operator="arithmetic" k1="0" k2="1" k3="1" k4="0" result="L"/></filter>
<filter id="fg4" filterUnits="userSpaceOnUse" x="0" y="0" width="129.5" height="126.6" color-interpolation-filters="sRGB"><feGaussianBlur in="SourceGraphic" stdDeviation="1.6" result="D"/><feTurbulence type="fractalNoise" baseFrequency="0.09" numOctaves="2" seed="41"/><feComponentTransfer><feFuncR type="table" tableValues="0 0 0 0 0 0 0 0 0 0 0 0 0 0 0 0 0 0 0 0.5 1 0.5 0 0 0 0 0 0 0 0 0 0 0 0 0 0 0 0 0 0 0"/><feFuncG type="table" tableValues="0 0 0 0 0 0 0 0 0 0 0 0 0 0 0 0 0 0 0 0.5 1 0.5 0 0 0 0 0 0 0 0 0 0 0 0 0 0 0 0 0 0 0"/></feComponentTransfer><feColorMatrix type="matrix" values="1 1 0 0 0  1 1 0 0 0  1 1 0 0 0  0 0 0 0 1" result="T"/><feTurbulence type="fractalNoise" baseFrequency="0.035" numOctaves="2" seed="141"/><feColorMatrix type="matrix" values="1.32 0 0 0 0.34  1.32 0 0 0 0.34  1.32 0 0 0 0.34  0 0 0 0 1" result="N"/><feColorMatrix in="D" type="matrix" values="1 0 0 0 0  1 0 0 0 0  1 0 0 0 0  0 0 0 0 1" result="Dr"/><feComposite in="Dr" in2="N" operator="arithmetic" k1="1" k2="0" k3="0" k4="0" result="Dm"/><feColorMatrix in="D" type="matrix" values="0 1 0 0 0  0 1 0 0 0  0 1 0 0 0  0 0 0 0 1" result="Dg"/><feComposite in="T" in2="Dm" operator="arithmetic" k1="0" k2="4.5" k3="3.8" k4="-4.5" result="M"/><feGaussianBlur in="M" stdDeviation="0.9" result="Mb"/><feComposite in="M" in2="Mb" operator="arithmetic" k1="0" k2="0.4" k3="0.6" k4="0" result="M"/><feComposite in="M" in2="Dg" operator="arithmetic" k1="0" k2="1" k3="1" k4="0" result="L"/><feColorMatrix in="D" type="matrix" values="0 0 1 0 0  0 0 1 0 0  0 0 1 0 0  0 0 0 0 1" result="Db"/><feComposite in="L" in2="Db" operator="arithmetic" k1="1" k2="0" k3="0" k4="0" result="LY"/><feColorMatrix in="LY" type="matrix" values="0.55 0 0 0 0  0 0.14 0 0 0  0 0 0 0 0  0 0 0 0 1" result="LYr"/><feComponentTransfer in="L" result="Lg"><feFuncR type="table" tableValues="0.05 0.1 0.07 0.06 0.2 0.43"/><feFuncG type="table" tableValues="0.07 0.25 0.45 0.63 0.72 0.79"/><feFuncB type="table" tableValues="0.04 0.11 0.22 0.31 0.3 0.25"/></feComponentTransfer><feComposite in="Lg" in2="LYr" operator="arithmetic" k1="0" k2="1" k3="1" k4="0"/></filter>
<g id="ta4"><rect x="-4" y="-4" width="137.5" height="134.6" fill="#333800"/><path d="M37.09 4.33 L34.68 17.16 L31.48 27.59" fill="none" stroke="#f28000" stroke-width="6.42" stroke-linecap="round" stroke-linejoin="round"/><path d="M50.72 13.95 L49.12 25.98" fill="none" stroke="#e69900" stroke-width="5.61" stroke-linecap="round" stroke-linejoin="round"/><ellipse cx="21.05" cy="29.99" rx="3.21" ry="3.21" fill="#80e600"/><ellipse cx="65.16" cy="55.65" rx="38.49" ry="41.7" fill="#ff5ccc"/><ellipse cx="98.04" cy="60.47" rx="8.82" ry="20.85" fill="#e699b2"/><ellipse cx="5.81" cy="57.26" rx="8.02" ry="10.83" fill="#f28000"/><path d="M11.43 91.74 L39.49 87.73 L71.57 91.74 L75.58 119.81 L47.51 127.83 L7.42 124.62Z" fill="#f26b00"/><ellipse cx="107.66" cy="109.38" rx="8.82" ry="8.82" fill="#a63300"/><path d="M86.01 118.2 L119.69 118.2 L119.69 127.83 L86.01 127.83Z" fill="#993300"/><ellipse cx="118.08" cy="25.98" rx="6.82" ry="6.82" fill="#d94c00"/><ellipse cx="115.68" cy="62.07" rx="8.02" ry="12.83" fill="#993300"/><path d="M106.86 35.61 L106.05 71.69 L95.63 91.74 L83.6 103.77" fill="none" stroke="#0a3300" stroke-width="5.61" stroke-linecap="round" stroke-linejoin="round"/><ellipse cx="63.55" cy="54.05" rx="25.66" ry="23.66" fill="#001a00" transform="rotate(-20 63.55 54.05)"/><ellipse cx="83.6" cy="14.76" rx="20.05" ry="10.02" fill="#000f00" transform="rotate(14 83.6 14.76)"/><ellipse cx="17.04" cy="42.82" rx="8.82" ry="8.02" fill="#000800"/><ellipse cx="19.45" cy="73.3" rx="9.62" ry="8.82" fill="#000d00"/><ellipse cx="53.13" cy="106.98" rx="4.41" ry="4.41" fill="#000800"/><ellipse cx="29.07" cy="110.99" rx="3.61" ry="3.61" fill="#000800"/><ellipse cx="60.34" cy="113.39" rx="3.61" ry="3.61" fill="#000800"/><ellipse cx="79.59" cy="104.57" rx="4.81" ry="4.01" fill="#000d00"/><ellipse cx="23.46" cy="125.42" rx="16.04" ry="4.01" fill="#000a00"/><path d="M-0.6 -0.48 L31.48 -0.48 L25.86 13.15 L-0.6 17.96Z" fill="#000d00"/><ellipse cx="7.42" cy="27.59" rx="8.02" ry="8.02" fill="#000f00"/></g>
<g id="na4" filter="url(#nb)"><ellipse cx="63.55" cy="54.05" rx="25.66" ry="23.66" transform="rotate(-20 63.55 54.05)" fill="#1a1a1a"/><ellipse cx="83.6" cy="14.76" rx="20.05" ry="10.02" transform="rotate(14 83.6 14.76)" fill="#0f0f0f"/><ellipse cx="17.04" cy="42.82" rx="8.82" ry="8.02" fill="#080808"/><ellipse cx="19.45" cy="73.3" rx="9.62" ry="8.82" fill="#0d0d0d"/><ellipse cx="53.13" cy="106.98" rx="4.41" ry="4.41" fill="#080808"/><ellipse cx="29.07" cy="110.99" rx="3.61" ry="3.61" fill="#080808"/><ellipse cx="60.34" cy="113.39" rx="3.61" ry="3.61" fill="#080808"/><ellipse cx="79.59" cy="104.57" rx="4.81" ry="4.01" fill="#0d0d0d"/><ellipse cx="23.46" cy="125.42" rx="16.04" ry="4.01" fill="#0a0a0a"/><path d="M-0.6 -0.48 L31.48 -0.48 L25.86 13.15 L-0.6 17.96Z" fill="#0d0d0d"/><ellipse cx="7.42" cy="27.59" rx="8.02" ry="8.02" fill="#0f0f0f"/></g>
<g id="ng4" filter="url(#nb)"><ellipse cx="63.55" cy="54.05" rx="25.66" ry="23.66" transform="rotate(-20 63.55 54.05)" fill="#132913"/><ellipse cx="83.6" cy="14.76" rx="20.05" ry="10.02" transform="rotate(14 83.6 14.76)" fill="#112010"/><ellipse cx="17.04" cy="42.82" rx="8.82" ry="8.02" fill="#0f190d"/><ellipse cx="19.45" cy="73.3" rx="9.62" ry="8.82" fill="#101d0f"/><ellipse cx="53.13" cy="106.98" rx="4.41" ry="4.41" fill="#0f190d"/><ellipse cx="29.07" cy="110.99" rx="3.61" ry="3.61" fill="#0f190d"/><ellipse cx="60.34" cy="113.39" rx="3.61" ry="3.61" fill="#0f190d"/><ellipse cx="79.59" cy="104.57" rx="4.81" ry="4.01" fill="#101d0f"/><ellipse cx="23.46" cy="125.42" rx="16.04" ry="4.01" fill="#0f1b0e"/><path d="M-0.6 -0.48 L31.48 -0.48 L25.86 13.15 L-0.6 17.96Z" fill="#101d0f"/><ellipse cx="7.42" cy="27.59" rx="8.02" ry="8.02" fill="#112010"/></g>
<filter id="fa5" filterUnits="userSpaceOnUse" x="0" y="0" width="129.5" height="126.6" color-interpolation-filters="sRGB"><feGaussianBlur in="SourceGraphic" stdDeviation="1.6" result="D"/><feTurbulence type="fractalNoise" baseFrequency="0.09" numOctaves="2" seed="53"/><feComponentTransfer><feFuncR type="table" tableValues="0 0 0 0 0 0 0 0 0 0 0 0 0 0 0 0 0 0 0 0.5 1 0.5 0 0 0 0 0 0 0 0 0 0 0 0 0 0 0 0 0 0 0"/><feFuncG type="table" tableValues="0 0 0 0 0 0 0 0 0 0 0 0 0 0 0 0 0 0 0 0.5 1 0.5 0 0 0 0 0 0 0 0 0 0 0 0 0 0 0 0 0 0 0"/></feComponentTransfer><feColorMatrix type="matrix" values="1 1 0 0 0  1 1 0 0 0  1 1 0 0 0  0 0 0 0 1" result="T"/><feTurbulence type="fractalNoise" baseFrequency="0.035" numOctaves="2" seed="153"/><feColorMatrix type="matrix" values="1.32 0 0 0 0.34  1.32 0 0 0 0.34  1.32 0 0 0 0.34  0 0 0 0 1" result="N"/><feColorMatrix in="D" type="matrix" values="1 0 0 0 0  1 0 0 0 0  1 0 0 0 0  0 0 0 0 1" result="Dr"/><feComposite in="Dr" in2="N" operator="arithmetic" k1="1" k2="0" k3="0" k4="0" result="Dm"/><feColorMatrix in="D" type="matrix" values="0 1 0 0 0  0 1 0 0 0  0 1 0 0 0  0 0 0 0 1" result="Dg"/><feComposite in="T" in2="Dm" operator="arithmetic" k1="0" k2="4.5" k3="3.8" k4="-4.5" result="M"/><feGaussianBlur in="M" stdDeviation="0.9" result="Mb"/><feComposite in="M" in2="Mb" operator="arithmetic" k1="0" k2="0.4" k3="0.6" k4="0" result="M"/><feComposite in="M" in2="Dg" operator="arithmetic" k1="0" k2="1" k3="1" k4="0" result="L"/></filter>
<filter id="fg5" filterUnits="userSpaceOnUse" x="0" y="0" width="129.5" height="126.6" color-interpolation-filters="sRGB"><feGaussianBlur in="SourceGraphic" stdDeviation="1.6" result="D"/><feTurbulence type="fractalNoise" baseFrequency="0.09" numOctaves="2" seed="53"/><feComponentTransfer><feFuncR type="table" tableValues="0 0 0 0 0 0 0 0 0 0 0 0 0 0 0 0 0 0 0 0.5 1 0.5 0 0 0 0 0 0 0 0 0 0 0 0 0 0 0 0 0 0 0"/><feFuncG type="table" tableValues="0 0 0 0 0 0 0 0 0 0 0 0 0 0 0 0 0 0 0 0.5 1 0.5 0 0 0 0 0 0 0 0 0 0 0 0 0 0 0 0 0 0 0"/></feComponentTransfer><feColorMatrix type="matrix" values="1 1 0 0 0  1 1 0 0 0  1 1 0 0 0  0 0 0 0 1" result="T"/><feTurbulence type="fractalNoise" baseFrequency="0.035" numOctaves="2" seed="153"/><feColorMatrix type="matrix" values="1.32 0 0 0 0.34  1.32 0 0 0 0.34  1.32 0 0 0 0.34  0 0 0 0 1" result="N"/><feColorMatrix in="D" type="matrix" values="1 0 0 0 0  1 0 0 0 0  1 0 0 0 0  0 0 0 0 1" result="Dr"/><feComposite in="Dr" in2="N" operator="arithmetic" k1="1" k2="0" k3="0" k4="0" result="Dm"/><feColorMatrix in="D" type="matrix" values="0 1 0 0 0  0 1 0 0 0  0 1 0 0 0  0 0 0 0 1" result="Dg"/><feComposite in="T" in2="Dm" operator="arithmetic" k1="0" k2="4.5" k3="3.8" k4="-4.5" result="M"/><feGaussianBlur in="M" stdDeviation="0.9" result="Mb"/><feComposite in="M" in2="Mb" operator="arithmetic" k1="0" k2="0.4" k3="0.6" k4="0" result="M"/><feComposite in="M" in2="Dg" operator="arithmetic" k1="0" k2="1" k3="1" k4="0" result="L"/><feColorMatrix in="D" type="matrix" values="0 0 1 0 0  0 0 1 0 0  0 0 1 0 0  0 0 0 0 1" result="Db"/><feComposite in="L" in2="Db" operator="arithmetic" k1="1" k2="0" k3="0" k4="0" result="LY"/><feColorMatrix in="LY" type="matrix" values="0.55 0 0 0 0  0 0.14 0 0 0  0 0 0 0 0  0 0 0 0 1" result="LYr"/><feComponentTransfer in="L" result="Lg"><feFuncR type="table" tableValues="0.05 0.1 0.07 0.06 0.2 0.43"/><feFuncG type="table" tableValues="0.07 0.25 0.45 0.63 0.72 0.79"/><feFuncB type="table" tableValues="0.04 0.11 0.22 0.31 0.3 0.25"/></feComponentTransfer><feComposite in="Lg" in2="LYr" operator="arithmetic" k1="0" k2="1" k3="1" k4="0"/></filter>
<g id="ta5"><rect x="-4" y="-4" width="137.5" height="134.6" fill="#331400"/><ellipse cx="63.55" cy="59.26" rx="24.06" ry="20.05" fill="#331a00"/><path d="M1.8 21.57 L15.44 23.18 L25.86 31.19 L41.1 31.19" fill="none" stroke="#bf1400" stroke-width="4.41" stroke-linecap="round" stroke-linejoin="round"/><path d="M63.55 27.19 L71.57 15.16 L87.61 12.75 L111.67 25.58 L121.29 39.21" fill="none" stroke="#f21a00" stroke-width="4.81" stroke-linecap="round" stroke-linejoin="round"/><ellipse cx="75.58" cy="19.17" rx="4.97" ry="4.97" fill="#99e600"/><ellipse cx="107.66" cy="11.95" rx="12.03" ry="5.61" fill="#bf1a00"/><ellipse cx="53.13" cy="55.25" rx="5.61" ry="12.03" fill="#ff5980"/><ellipse cx="39.49" cy="55.25" rx="8.82" ry="12.83" fill="#8c14ff"/><path d="M71.57 39.21 L84.4 56.86" fill="none" stroke="#ff3300" stroke-width="2.09" stroke-linecap="round" stroke-linejoin="round"/><path d="M45.91 85.73 L63.55 78.51 L79.59 83.32 L87.61 99.36 L89.21 115.4" fill="none" stroke="#f21f00" stroke-width="6.01" stroke-linecap="round" stroke-linejoin="round"/><ellipse cx="19.45" cy="91.34" rx="12.03" ry="16.84" fill="#a60f00"/><ellipse cx="26.66" cy="100.16" rx="4.81" ry="4.81" fill="#e63300"/><ellipse cx="111.67" cy="111.39" rx="13.63" ry="15.24" fill="#8c0d00"/><ellipse cx="99.64" cy="91.34" rx="8.02" ry="6.42" fill="#a61400"/><ellipse cx="39.49" cy="121.81" rx="13.63" ry="4.01" fill="#f23300"/><ellipse cx="75.58" cy="119.41" rx="8.02" ry="4.01" fill="#991400"/><ellipse cx="118.08" cy="55.25" rx="4.81" ry="8.02" fill="#990f00"/><ellipse cx="86.01" cy="32.8" rx="14.43" ry="14.43" fill="#000800"/><ellipse cx="106.86" cy="47.23" rx="14.43" ry="16.44" fill="#000800"/><ellipse cx="65.96" cy="104.17" rx="18.85" ry="18.85" fill="#000800"/><ellipse cx="25.86" cy="12.75" rx="17.64" ry="8.42" fill="#000d00"/><ellipse cx="6.62" cy="37.61" rx="6.82" ry="10.43" fill="#000800"/><ellipse cx="31.48" cy="71.29" rx="6.82" ry="8.82" fill="#000d00"/><ellipse cx="7.42" cy="122.61" rx="10.43" ry="6.42" fill="#000300"/></g>
<g id="na5" filter="url(#nb)"><ellipse cx="86.01" cy="32.8" rx="14.43" ry="14.43" fill="#080808"/><ellipse cx="106.86" cy="47.23" rx="14.43" ry="16.44" fill="#080808"/><ellipse cx="65.96" cy="104.17" rx="18.85" ry="18.85" fill="#080808"/><ellipse cx="25.86" cy="12.75" rx="17.64" ry="8.42" fill="#0d0d0d"/><ellipse cx="6.62" cy="37.61" rx="6.82" ry="10.43" fill="#080808"/><ellipse cx="31.48" cy="71.29" rx="6.82" ry="8.82" fill="#0d0d0d"/><ellipse cx="7.42" cy="122.61" rx="10.43" ry="6.42" fill="#030303"/></g>
<g id="ng5" filter="url(#nb)"><ellipse cx="86.01" cy="32.8" rx="14.43" ry="14.43" fill="#0f190d"/><ellipse cx="106.86" cy="47.23" rx="14.43" ry="16.44" fill="#0f190d"/><ellipse cx="65.96" cy="104.17" rx="18.85" ry="18.85" fill="#0f190d"/><ellipse cx="25.86" cy="12.75" rx="17.64" ry="8.42" fill="#101d0f"/><ellipse cx="6.62" cy="37.61" rx="6.82" ry="10.43" fill="#0f190d"/><ellipse cx="31.48" cy="71.29" rx="6.82" ry="8.82" fill="#101d0f"/><ellipse cx="7.42" cy="122.61" rx="10.43" ry="6.42" fill="#0d140b"/></g>
<filter id="fc0" filterUnits="userSpaceOnUse" x="0" y="0" width="119.4" height="118" color-interpolation-filters="sRGB"><feGaussianBlur in="SourceGraphic" stdDeviation="2.0" result="D"/><feTurbulence type="fractalNoise" baseFrequency="0.16 0.11" numOctaves="2" seed="61"/><feComponentTransfer><feFuncR type="table" tableValues="0 0 0 0 0 0 0 0 0 0 0 0 0 0 0 0 0 0 0.33 0.67 1 0.67 0.33 0 0 0 0 0 0 0 0 0 0 0 0 0 0 0 0 0 0"/><feFuncG type="table" tableValues="0 0 0 0 0 0 0 0 0 0 0 0 0 0 0 0 0 0 0.33 0.67 1 0.67 0.33 0 0 0 0 0 0 0 0 0 0 0 0 0 0 0 0 0 0"/></feComponentTransfer><feColorMatrix type="matrix" values="1 1 0 0 0  1 1 0 0 0  1 1 0 0 0  0 0 0 0 1" result="T"/><feTurbulence type="fractalNoise" baseFrequency="0.035" numOctaves="2" seed="161"/><feColorMatrix type="matrix" values="1.1 0 0 0 0.45  1.1 0 0 0 0.45  1.1 0 0 0 0.45  0 0 0 0 1" result="N"/><feColorMatrix in="D" type="matrix" values="1 0 0 0 0  1 0 0 0 0  1 0 0 0 0  0 0 0 0 1" result="Dr"/><feComposite in="Dr" in2="N" operator="arithmetic" k1="1" k2="0" k3="0" k4="0" result="Dm"/><feColorMatrix in="D" type="matrix" values="0 1 0 0 0  0 1 0 0 0  0 1 0 0 0  0 0 0 0 1" result="Dg"/><feComposite in="T" in2="Dm" operator="arithmetic" k1="0" k2="1.3" k3="1.15" k4="-1.3" result="M"/><feGaussianBlur in="M" stdDeviation="0.85" result="M"/><feComposite in="M" in2="Dg" operator="arithmetic" k1="0" k2="1" k3="1" k4="0" result="L"/></filter>
<g id="tc0"><rect x="-4" y="-4" width="127.4" height="126" fill="#002200"/><path d="M6.26 3.01 L38.72 -0.46 L71.17 0.7 L85.08 14.61 L111.74 30.83 L108.26 37.79 L89.72 47.06 L71.17 51.7 L61.9 70.24 L53.78 91.11 L49.15 116.61 L38.72 116.61 L31.76 86.47 L20.17 58.65 L13.21 28.52Z" fill="#6b3300"/><ellipse cx="44.51" cy="86.47" rx="10.43" ry="25.5" fill="#8c3d00"/><ellipse cx="94.35" cy="35.47" rx="13.91" ry="5.8" fill="#8c3d00"/><ellipse cx="45.67" cy="28.52" rx="20.86" ry="20.86" fill="#733600"/></g>
<filter id="fc1" filterUnits="userSpaceOnUse" x="0" y="0" width="119.4" height="118" color-interpolation-filters="sRGB"><feGaussianBlur in="SourceGraphic" stdDeviation="2.0" result="D"/><feTurbulence type="fractalNoise" baseFrequency="0.14" numOctaves="2" seed="69"/><feComponentTransfer><feFuncR type="table" tableValues="0 0 0 0 0 0 0 0 0 0 0 0 0 0 0 0 0 0 0.33 0.67 1 0.67 0.33 0 0 0 0 0 0 0 0 0 0 0 0 0 0 0 0 0 0"/><feFuncG type="table" tableValues="0 0 0 0 0 0 0 0 0 0 0 0 0 0 0 0 0 0 0.33 0.67 1 0.67 0.33 0 0 0 0 0 0 0 0 0 0 0 0 0 0 0 0 0 0"/></feComponentTransfer><feColorMatrix type="matrix" values="1 1 0 0 0  1 1 0 0 0  1 1 0 0 0  0 0 0 0 1" result="T"/><feTurbulence type="fractalNoise" baseFrequency="0.035" numOctaves="2" seed="169"/><feColorMatrix type="matrix" values="0.88 0 0 0 0.56  0.88 0 0 0 0.56  0.88 0 0 0 0.56  0 0 0 0 1" result="N"/><feColorMatrix in="D" type="matrix" values="1 0 0 0 0  1 0 0 0 0  1 0 0 0 0  0 0 0 0 1" result="Dr"/><feComposite in="Dr" in2="N" operator="arithmetic" k1="1" k2="0" k3="0" k4="0" result="Dm"/><feColorMatrix in="D" type="matrix" values="0 1 0 0 0  0 1 0 0 0  0 1 0 0 0  0 0 0 0 1" result="Dg"/><feComposite in="T" in2="Dm" operator="arithmetic" k1="0" k2="1.6" k3="1.45" k4="-1.6" result="M"/><feGaussianBlur in="M" stdDeviation="0.85" result="M"/><feComposite in="M" in2="Dg" operator="arithmetic" k1="0" k2="1" k3="1" k4="0" result="L"/></filter>
<g id="tc1"><rect x="-4" y="-4" width="127.4" height="126" fill="#002200"/><path d="M9.74 115.92 L17.85 95.51 L27.12 56.1 L38.72 35.24 L61.9 21.33 L85.08 11.59 L94.35 21.33 L101.31 39.87 L108.26 51.47 L89.72 63.06 L82.3 81.6 L79.98 100.15 L73.95 114.52Z" fill="#8c3800"/><ellipse cx="45.67" cy="90.88" rx="30.14" ry="18.55" fill="#a84000"/><ellipse cx="92.04" cy="32.92" rx="9.27" ry="13.91" fill="#a84000"/><ellipse cx="64.22" cy="50.31" rx="28.28" ry="21.33" fill="#002a00" transform="rotate(-12 64.22 50.31)"/></g>
<path id="gp" d="M-6.6 -28 C-4 -24 0 -20 3 -15 M-19.5 -7.5 C-12 -11 -3 -7 5 -10 C11 -12 15 -15 19.5 -13.5 M-20.5 6.5 C-12 3 -5 8 3 5 C10 3 15 0 20.5 1.5 M-11.5 -19 C-15 -9 -9 -1 -12.5 8 C-8 15 -2 18 3 20 M2 -16 C-1 -6 5 3 1.5 15 M18 -14 C14 -4 21 4 19.5 12 C18 19 13 22 15.5 26 L18 28.5 M-9 -1 C-2 1 6 0 13 -4 M-7 13 C0 14 9 12 15 7 M-14 -13 C-8 -15 -2 -13 4 -15" fill="none" stroke="#0e8f4f" stroke-width="5.7" stroke-linecap="round" stroke-linejoin="round"/>
<g id="rp" fill="none" stroke="#d91f26" stroke-linecap="round" stroke-linejoin="round"><path d="M-18.5 -1 C-13 -13 2 -18.5 19 -4.5 M-14 -1.5 C-8 -9.5 4 -11.5 14 -3" stroke-width="5"/><path d="M-13.5 4.2 L-4.5 3 M-7 2 C-8 6 -10 9 -10.5 12.5 C-7.5 13.5 -5 14.5 -2.5 16.5 M1.5 9.5 C6 9.5 10.5 8 14.5 6.2" stroke-width="4.9"/><circle cx="6" cy="1" r="3.8" stroke-width="4"/></g>
<linearGradient id="gd" gradientUnits="userSpaceOnUse" x1="100" y1="0" x2="1351" y2="0"><stop offset="0" stop-color="#000"/><stop offset="0.06" stop-color="#0c3a1c"/><stop offset="0.14" stop-color="#3aa34e"/><stop offset="0.4" stop-color="#3fa24c"/><stop offset="0.52" stop-color="#7d9148"/><stop offset="0.62" stop-color="#b07a42"/><stop offset="0.72" stop-color="#cd643c"/><stop offset="0.86" stop-color="#d5483a"/><stop offset="0.992" stop-color="#d33d38"/><stop offset="1" stop-color="#f7d9d7"/></linearGradient>
</defs>
<rect width="1717" height="2493" fill="#fff"/>
<g id="microA">
<rect x="118.2" y="40.2" width="127.4" height="127.5" fill="#0c120a"/>
<rect x="245.6" y="40.1" width="636.7" height="126.7" fill="#141414"/>
<svg x="118.2" y="40.2" width="127.4" height="127.5" overflow="hidden"><g transform="scale(0.98 1.01)"><g filter="url(#fg0)"><use href="#ta0"/></g><use href="#ng0"/></g></svg>
<svg x="245.6" y="40.1" width="636.7" height="126.7" overflow="hidden"><g transform="translate(509.4 0) scale(1 1.01)"><g filter="url(#fa0)"><use href="#ta0"/></g><use href="#na0"/></g><g transform="translate(382.3 0) scale(1 1.01)"><g filter="url(#fa0)"><use href="#ta0"/></g><use href="#na0"/></g><g transform="translate(254.6 0) scale(1 1.01)"><g filter="url(#fa0)"><use href="#ta0"/></g><use href="#na0"/></g><g transform="translate(127.1 0) scale(1 1.01)"><g filter="url(#fa0)"><use href="#ta0"/></g><use href="#na0"/></g><g transform="translate(0 0) scale(1 1.01)"><g filter="url(#fa0)"><use href="#ta0"/></g><use href="#na0"/></g><path d="M127.1 0 v126.7 M254.6 0 v126.7 M382.3 0 v126.7 M509.4 0 v126.7 " stroke="#a8a8a8" stroke-width="0.7" fill="none"/><rect x="605.9" y="119.1" width="27.7" height="2.6" fill="#fff"/></svg>
<rect x="181.6" y="121" width="18.2" height="18.2" fill="none" stroke="#e4872a" stroke-width="2.1" stroke-dasharray="1.3 0.7"/>
<rect x="118.2" y="173" width="127.4" height="127.6" fill="#0c120a"/>
<rect x="245.6" y="172.1" width="636.7" height="127.6" fill="#141414"/>
<svg x="118.2" y="173" width="127.4" height="127.6" overflow="hidden"><g transform="scale(0.98 1.01)"><g filter="url(#fg1)"><use href="#ta1"/></g><use href="#ng1"/></g></svg>
<svg x="245.6" y="172.1" width="636.7" height="127.6" overflow="hidden"><g transform="translate(507.4 0) scale(1 1.01)"><g filter="url(#fa1)"><use href="#ta1"/></g><use href="#na1"/></g><g transform="translate(379.4 0) scale(1 1.01)"><g filter="url(#fa1)"><use href="#ta1"/></g><use href="#na1"/></g><g transform="translate(251.8 0) scale(1 1.01)"><g filter="url(#fa1)"><use href="#ta1"/></g><use href="#na1"/></g><g transform="translate(123 0) scale(1 1.01)"><g filter="url(#fa1)"><use href="#ta1"/></g><use href="#na1"/></g><g transform="translate(0 0) scale(1 1.01)"><g filter="url(#fa1)"><use href="#ta1"/></g><use href="#na1"/></g><path d="M123 0 v127.6 M251.8 0 v127.6 M379.4 0 v127.6 M507.4 0 v127.6 " stroke="#a8a8a8" stroke-width="0.7" fill="none"/><rect x="605.9" y="120" width="27.7" height="2.6" fill="#fff"/></svg>
<rect x="194.3" y="220" width="18.2" height="18.2" fill="none" stroke="#e4872a" stroke-width="2.1" stroke-dasharray="1.3 0.7"/>
<rect x="118.2" y="306.1" width="127.4" height="125.3" fill="#0c120a"/>
<rect x="245.6" y="305.2" width="636.7" height="125.3" fill="#141414"/>
<svg x="118.2" y="306.1" width="127.4" height="125.3" overflow="hidden"><g transform="scale(0.98 0.99)"><g filter="url(#fg2)"><use href="#ta2"/></g><use href="#ng2"/></g></svg>
<svg x="245.6" y="305.2" width="636.7" height="125.3" overflow="hidden"><g transform="translate(508 0) scale(1 0.99)"><g filter="url(#fa2)"><use href="#ta2"/></g><use href="#na2"/></g><g transform="translate(380.6 0) scale(1 0.99)"><g filter="url(#fa2)"><use href="#ta2"/></g><use href="#na2"/></g><g transform="translate(253.2 0) scale(1 0.99)"><g filter="url(#fa2)"><use href="#ta2"/></g><use href="#na2"/></g><g transform="translate(125.6 0) scale(1 0.99)"><g filter="url(#fa2)"><use href="#ta2"/></g><use href="#na2"/></g><g transform="translate(0 0) scale(1 0.99)"><g filter="url(#fa2)"><use href="#ta2"/></g><use href="#na2"/></g><path d="M125.6 0 v125.3 M253.2 0 v125.3 M380.6 0 v125.3 M508 0 v125.3 " stroke="#a8a8a8" stroke-width="0.7" fill="none"/><rect x="605.9" y="117.7" width="27.7" height="2.6" fill="#fff"/></svg>
<rect x="171.4" y="339" width="18.2" height="18.2" fill="none" stroke="#e4872a" stroke-width="2.1" stroke-dasharray="1.3 0.7"/>
<rect x="118.2" y="437.4" width="127.4" height="126.8" fill="#0c120a"/>
<rect x="245.6" y="436.5" width="636.7" height="126.8" fill="#141414"/>
<svg x="118.2" y="437.4" width="127.4" height="126.8" overflow="hidden"><g transform="scale(0.98 1.01)"><g filter="url(#fg3)"><use href="#ta3"/></g><use href="#ng3"/></g></svg>
<svg x="245.6" y="436.5" width="636.7" height="126.8" overflow="hidden"><g transform="translate(508 0) scale(1 1.01)"><g filter="url(#fa3)"><use href="#ta3"/></g><use href="#na3"/></g><g transform="translate(380.2 0) scale(1 1.01)"><g filter="url(#fa3)"><use href="#ta3"/></g><use href="#na3"/></g><g transform="translate(253 0) scale(1 1.01)"><g filter="url(#fa3)"><use href="#ta3"/></g><use href="#na3"/></g><g transform="translate(125.2 0) scale(1 1.01)"><g filter="url(#fa3)"><use href="#ta3"/></g><use href="#na3"/></g><g transform="translate(0 0) scale(1 1.01)"><g filter="url(#fa3)"><use href="#ta3"/></g><use href="#na3"/></g><path d="M125.2 0 v126.8 M253 0 v126.8 M380.2 0 v126.8 M508 0 v126.8 " stroke="#a8a8a8" stroke-width="0.7" fill="none"/><rect x="605.9" y="119.2" width="27.7" height="2.6" fill="#fff"/></svg>
<rect x="181.6" y="518" width="18.2" height="18.2" fill="none" stroke="#e4872a" stroke-width="2.1" stroke-dasharray="1.3 0.7"/>
<rect x="118.2" y="569.1" width="127.4" height="126.6" fill="#0c120a"/>
<rect x="245.6" y="568.2" width="636.7" height="126.6" fill="#141414"/>
<svg x="118.2" y="569.1" width="127.4" height="126.6" overflow="hidden"><g transform="scale(0.98 1)"><g filter="url(#fg4)"><use href="#ta4"/></g><use href="#ng4"/></g></svg>
<svg x="245.6" y="568.2" width="636.7" height="126.6" overflow="hidden"><g transform="translate(508.6 0) scale(1 1)"><g filter="url(#fa4)"><use href="#ta4"/></g><use href="#na4"/></g><g transform="translate(381.1 0) scale(1 1)"><g filter="url(#fa4)"><use href="#ta4"/></g><use href="#na4"/></g><g transform="translate(253.7 0) scale(1 1)"><g filter="url(#fa4)"><use href="#ta4"/></g><use href="#na4"/></g><g transform="translate(126.2 0) scale(1 1)"><g filter="url(#fa4)"><use href="#ta4"/></g><use href="#na4"/></g><g transform="translate(0 0) scale(1 1)"><g filter="url(#fa4)"><use href="#ta4"/></g><use href="#na4"/></g><path d="M126.2 0 v126.6 M253.7 0 v126.6 M381.1 0 v126.6 M508.6 0 v126.6 " stroke="#a8a8a8" stroke-width="0.7" fill="none"/><rect x="605.9" y="119" width="27.7" height="2.6" fill="#fff"/></svg>
<rect x="198" y="632.3" width="18.2" height="18.2" fill="none" stroke="#e4872a" stroke-width="2.1" stroke-dasharray="1.3 0.7"/>
<rect x="118.2" y="700.4" width="127.4" height="126.3" fill="#0c120a"/>
<rect x="245.6" y="699.5" width="636.7" height="126.3" fill="#141414"/>
<svg x="118.2" y="700.4" width="127.4" height="126.3" overflow="hidden"><g transform="scale(0.98 1)"><g filter="url(#fg5)"><use href="#ta5"/></g><use href="#ng5"/></g></svg>
<svg x="245.6" y="699.5" width="636.7" height="126.3" overflow="hidden"><g transform="translate(508.6 0) scale(1 1)"><g filter="url(#fa5)"><use href="#ta5"/></g><use href="#na5"/></g><g transform="translate(381.6 0) scale(1 1)"><g filter="url(#fa5)"><use href="#ta5"/></g><use href="#na5"/></g><g transform="translate(254.1 0) scale(1 1)"><g filter="url(#fa5)"><use href="#ta5"/></g><use href="#na5"/></g><g transform="translate(126.2 0) scale(1 1)"><g filter="url(#fa5)"><use href="#ta5"/></g><use href="#na5"/></g><g transform="translate(0 0) scale(1 1)"><g filter="url(#fa5)"><use href="#ta5"/></g><use href="#na5"/></g><path d="M126.2 0 v126.3 M254.1 0 v126.3 M381.6 0 v126.3 M508.6 0 v126.3 " stroke="#a8a8a8" stroke-width="0.7" fill="none"/><rect x="605.9" y="118.7" width="27.7" height="2.6" fill="#fff"/></svg>
<rect x="150.5" y="746.5" width="19" height="19" fill="none" stroke="#e4872a" stroke-width="2.1" stroke-dasharray="1.3 0.7"/>
<line x1="243.9" y1="40.3" x2="243.9" y2="827.5" stroke="#fff000" stroke-width="2.9" stroke-dasharray="14.4 9.05"/>
<g font-weight="bold" fill="#111">
<text x="124.3" y="35.2" font-size="19" textLength="97" lengthAdjust="spacingAndGlyphs">Pre-bleach</text>
<text x="313.9" y="35.1" font-size="21.2" text-anchor="middle">0s</text>
<text x="437.4" y="35.1" font-size="21.2" text-anchor="middle">55s</text>
<text x="562" y="35.1" font-size="21.2" text-anchor="middle">110s</text>
<text x="691.2" y="35.1" font-size="21.2" text-anchor="middle">165s</text>
<text x="814.7" y="35.1" font-size="21.2" text-anchor="middle">225s</text>
<text transform="translate(67.1 429.9) rotate(-90) scale(0.89 1)" font-size="25.2" text-anchor="middle">GFP-Bcl-XL</text>
</g>
<text x="109.5" y="107" font-size="21.9" text-anchor="middle" fill="#222" transform="rotate(-90 109.5 107)">-</text>
<text x="108" y="235.4" font-size="21.9" text-anchor="middle" fill="#222" transform="rotate(-90 108 235.4)">mCh-tBid</text>
<text x="107.4" y="361.6" font-size="21.9" text-anchor="middle" fill="#222" transform="rotate(-90 107.4 361.6)">mCh-Bim</text>
<text x="108.1" y="499.6" font-size="21.9" text-anchor="middle" fill="#222" transform="rotate(-90 108.1 499.6)">mCh-Puma</text>
<text x="106.8" y="633.4" font-size="21.9" text-anchor="middle" fill="#222" transform="rotate(-90 106.8 633.4)">mCh-Bad</text>
<text x="108.4" y="760.3" font-size="21.9" text-anchor="middle" fill="#222" transform="rotate(-90 108.4 760.3)">mCh-Noxa</text>
<line x1="80.4" y1="47.3" x2="80.4" y2="790.5" stroke="#1a1a1a" stroke-width="2.2"/>
</g>
<g id="microC">
<rect x="88" y="1521.2" width="838.8" height="118" fill="#232323"/>
<g transform="translate(88 1521.2)"><g filter="url(#fc0)"><use href="#tc0"/></g></g>
<g transform="translate(210.5 1521.2)"><g filter="url(#fc0)"><use href="#tc0"/></g></g>
<g transform="translate(329.88 1521.2)"><g filter="url(#fc0)"><use href="#tc0"/></g></g>
<g transform="translate(449.26 1521.2)"><g filter="url(#fc0)"><use href="#tc0"/></g></g>
<g transform="translate(568.64 1521.2)"><g filter="url(#fc0)"><use href="#tc0"/></g></g>
<g transform="translate(688.02 1521.2)"><g filter="url(#fc0)"><use href="#tc0"/></g></g>
<g transform="translate(807.4 1521.2)"><g filter="url(#fc0)"><use href="#tc0"/></g></g>
<rect x="88" y="1642.3" width="838.8" height="118" fill="#232323"/>
<g transform="translate(88 1642.3)"><g filter="url(#fc1)"><use href="#tc1"/></g></g>
<g transform="translate(210.5 1642.3)"><g filter="url(#fc1)"><use href="#tc1"/></g></g>
<g transform="translate(329.88 1642.3)"><g filter="url(#fc1)"><use href="#tc1"/></g></g>
<g transform="translate(449.26 1642.3)"><g filter="url(#fc1)"><use href="#tc1"/></g></g>
<g transform="translate(568.64 1642.3)"><g filter="url(#fc1)"><use href="#tc1"/></g></g>
<g transform="translate(688.02 1642.3)"><g filter="url(#fc1)"><use href="#tc1"/></g></g>
<g transform="translate(807.4 1642.3)"><g filter="url(#fc1)"><use href="#tc1"/></g></g>
<rect x="206.6" y="1518" width="3.9" height="246" fill="#fff"/>
<line x1="208.6" y1="1494.2" x2="208.6" y2="1780.4" stroke="#fb1a10" stroke-width="3" stroke-dasharray="14.4 9.2"/>
<rect x="131.5" y="1573.7" width="19" height="18.4" fill="none" stroke="#c9a424" stroke-width="2" stroke-dasharray="1.3 0.6"/>
<rect x="118.3" y="1716.2" width="19" height="18.4" fill="none" stroke="#c9a424" stroke-width="2" stroke-dasharray="1.3 0.6"/>
<g font-weight="bold" fill="#111">
<text x="101" y="1514.3" font-size="19" textLength="97.2" lengthAdjust="spacingAndGlyphs">Pre-bleach</text>
<text x="270.8" y="1514.6" font-size="20.3" text-anchor="middle">0s</text>
<text x="384" y="1514.6" font-size="20.3" text-anchor="middle">5s</text>
<text x="505.5" y="1514.6" font-size="20.3" text-anchor="middle">10s</text>
<text x="620" y="1514.6" font-size="20.3" text-anchor="middle">15s</text>
<text x="739.2" y="1514.6" font-size="20.3" text-anchor="middle">20s</text>
<text x="861.2" y="1514.6" font-size="20.3" text-anchor="middle">25s</text>
<text transform="translate(59.9 1579.2) rotate(-90) scale(0.92 1)" font-size="22.7" text-anchor="middle">GFP-Bcl-XL</text>
<text transform="translate(60 1705.3) rotate(-90) scale(0.92 1)" font-size="22.7" text-anchor="middle">GFP-Bcl-XL</text>
<text transform="translate(81.8 1705.3) rotate(-90) scale(0.92 1)" font-size="22.7" text-anchor="middle">R139D</text>
</g>
</g>
<g id="chartA">
<path d="M1027.81 522.17 L1041.62 503.89 L1055.43 492.15 L1069.25 487.12 L1083.06 482.47 L1096.87 477.43 L1110.68 471.82 L1124.49 467.57 L1138.3 462.75 L1152.12 459.62 L1165.93 455.88 L1179.74 455.14 L1193.55 451.66 L1207.36 448.77 L1221.17 446.67 L1234.98 444.01 L1248.8 444.12 L1262.61 442.74 L1276.42 442 L1290.23 440.26 L1304.04 438.23 L1317.85 437.29 L1331.66 435.52 L1345.48 434.76 L1359.29 433.98 L1373.1 434.7 L1386.91 433.53 L1400.72 433.54 L1414.53 431.42 L1428.35 429.07 L1442.16 428.92 L1455.97 428.15 L1469.78 427.99 L1483.59 429.44 L1497.4 426.79 L1497.4 477.74 L1483.59 479.77 L1469.78 479.47 L1455.97 481.65 L1442.16 483.81 L1428.35 483.65 L1414.53 484.23 L1400.72 484.45 L1386.91 483.87 L1373.1 486.21 L1359.29 487.52 L1345.48 489.66 L1331.66 490.07 L1317.85 490.06 L1304.04 489.12 L1290.23 490.6 L1276.42 493.54 L1262.61 496.31 L1248.8 499.03 L1234.98 498.55 L1221.17 499.4 L1207.36 499.64 L1193.55 502.01 L1179.74 506.72 L1165.93 509.49 L1152.12 514.53 L1138.3 517.25 L1124.49 517.7 L1110.68 517.54 L1096.87 520.12 L1083.06 523.85 L1069.25 527.98 L1055.43 531.72 L1041.62 540.46 L1027.81 554.35Z" fill="#3f7fca" fill-opacity="0.25"/>
<path d="M1027.81 529.72 L1041.62 509.71 L1055.43 493.68 L1069.25 483.86 L1083.06 474.93 L1096.87 466.35 L1110.68 457 L1124.49 450.69 L1138.3 444.16 L1152.12 441.86 L1165.93 438.73 L1179.74 437.93 L1193.55 433.1 L1207.36 428.97 L1221.17 425.86 L1234.98 423.41 L1248.8 423.45 L1262.61 423.25 L1276.42 422.14 L1290.23 419.92 L1304.04 415.19 L1317.85 413.27 L1331.66 414.05 L1345.48 412.07 L1359.29 410.4 L1373.1 408.68 L1386.91 406.74 L1400.72 404.93 L1414.53 402.72 L1428.35 400.9 L1442.16 400.68 L1455.97 400.77 L1469.78 401.96 L1483.59 399.41 L1497.4 397.3 L1497.4 461.02 L1483.59 460.67 L1469.78 462.21 L1455.97 462.23 L1442.16 464.66 L1428.35 466.78 L1414.53 468.47 L1400.72 468.6 L1386.91 467.96 L1373.1 468.94 L1359.29 471.91 L1345.48 476.09 L1331.66 479.95 L1317.85 478.98 L1304.04 478.81 L1290.23 481.11 L1276.42 482.4 L1262.61 484.8 L1248.8 487.52 L1234.98 489.32 L1221.17 491.55 L1207.36 492.53 L1193.55 494.25 L1179.74 498.2 L1165.93 500.32 L1152.12 505.97 L1138.3 510.1 L1124.49 511.76 L1110.68 511.3 L1096.87 513.65 L1083.06 516.77 L1069.25 522.46 L1055.43 530.2 L1041.62 543.41 L1027.81 558.51Z" fill="#41a660" fill-opacity="0.25"/>
<path d="M1027.81 530.15 L1041.62 505.88 L1055.43 492 L1069.25 480.05 L1083.06 470.08 L1096.87 462.32 L1110.68 455.28 L1124.49 449.72 L1138.3 443 L1152.12 442.29 L1165.93 439.69 L1179.74 436.43 L1193.55 433.93 L1207.36 431.58 L1221.17 429.25 L1234.98 428.39 L1248.8 428.55 L1262.61 428.28 L1276.42 426.77 L1290.23 425.43 L1304.04 424.26 L1317.85 422.53 L1331.66 421.1 L1345.48 421.54 L1359.29 420.97 L1373.1 419.73 L1386.91 418.4 L1400.72 417.24 L1414.53 416.4 L1428.35 416.72 L1442.16 416.29 L1455.97 415.41 L1469.78 415.92 L1483.59 415.46 L1497.4 415.18 L1497.4 451.91 L1483.59 451.05 L1469.78 450.01 L1455.97 448.76 L1442.16 450.22 L1428.35 452.13 L1414.53 453.04 L1400.72 453.95 L1386.91 453.96 L1373.1 453.8 L1359.29 454.32 L1345.48 455.5 L1331.66 456.53 L1317.85 459.19 L1304.04 460.97 L1290.23 460.97 L1276.42 460.8 L1262.61 461.63 L1248.8 462.53 L1234.98 463.86 L1221.17 465.92 L1207.36 468.27 L1193.55 469.44 L1179.74 470.45 L1165.93 473.04 L1152.12 476.29 L1138.3 478.5 L1124.49 483.48 L1110.68 486.11 L1096.87 489.02 L1083.06 492.37 L1069.25 498.78 L1055.43 508.48 L1041.62 520.92 L1027.81 543.45Z" fill="#ea8f3c" fill-opacity="0.3"/>
<path d="M1027.81 532.12 L1041.62 500.24 L1055.43 482.69 L1069.25 469.52 L1083.06 462.8 L1096.87 453.14 L1110.68 447.29 L1124.49 442.91 L1138.3 439.98 L1152.12 436.76 L1165.93 432.67 L1179.74 430.04 L1193.55 428.28 L1207.36 425.36 L1221.17 423.31 L1234.98 420.97 L1248.8 419.8 L1262.61 418.34 L1276.42 417.17 L1290.23 417.46 L1304.04 416.23 L1317.85 415 L1331.66 412.31 L1345.48 410.21 L1359.29 409.56 L1373.1 408.98 L1386.91 406.93 L1400.72 407.81 L1414.53 406.93 L1428.35 406.05 L1442.16 405.47 L1455.97 404 L1469.78 403.13 L1483.59 403.13 L1497.4 402.83 L1497.4 415.7 L1483.59 416 L1469.78 416 L1455.97 416.88 L1442.16 418.34 L1428.35 418.92 L1414.53 419.8 L1400.72 420.68 L1386.91 419.8 L1373.1 421.85 L1359.29 422.43 L1345.48 421.2 L1331.66 421.44 L1317.85 422.26 L1304.04 421.61 L1290.23 420.97 L1276.42 420.68 L1262.61 421.85 L1248.8 423.31 L1234.98 424.48 L1221.17 426.82 L1207.36 428.87 L1193.55 431.79 L1179.74 433.55 L1165.93 436.18 L1152.12 440.27 L1138.3 443.49 L1124.49 446.42 L1110.68 450.8 L1096.87 456.65 L1083.06 466.31 L1069.25 478.3 L1055.43 491.46 L1041.62 509.01 L1027.81 535.63Z" fill="#7f5db6" fill-opacity="0.28"/>
<path d="M1027.81 531.83 L1041.62 474.5 L1055.43 448.17 L1069.25 430.62 L1083.06 414.53 L1096.87 405.76 L1110.68 398.45 L1124.49 391.13 L1138.3 385.87 L1152.12 379.14 L1165.93 378.26 L1179.74 372.41 L1193.55 376.51 L1207.36 372.71 L1221.17 370.07 L1234.98 367.15 L1248.8 364.81 L1262.61 360.71 L1276.42 362.47 L1290.23 358.67 L1304.04 360.72 L1317.85 352.23 L1331.66 353.4 L1345.48 348.43 L1359.29 351.36 L1373.1 350.18 L1386.91 353.69 L1400.72 350.77 L1414.53 350.18 L1428.35 349.6 L1442.16 348.14 L1455.97 346.67 L1469.78 350.18 L1483.59 348.43 L1497.4 351.35 L1497.4 363.05 L1483.59 360.13 L1469.78 359.54 L1455.97 358.38 L1442.16 358.67 L1428.35 354.28 L1414.53 351.94 L1400.72 352.52 L1386.91 357.79 L1373.1 358.38 L1359.29 361.88 L1345.48 365.98 L1331.66 365.1 L1317.85 361.59 L1304.04 364.22 L1290.23 360.42 L1276.42 364.22 L1262.61 362.47 L1248.8 366.56 L1234.98 368.9 L1221.17 371.83 L1207.36 374.46 L1193.55 381.19 L1179.74 385.28 L1165.93 387.04 L1152.12 386.16 L1138.3 395.23 L1124.49 395.81 L1110.68 400.2 L1096.87 407.51 L1083.06 416.29 L1069.25 432.38 L1055.43 449.93 L1041.62 476.25 L1027.81 533.58Z" fill="#636363" fill-opacity="0.25"/>
<path d="M1027.81 533.29 L1041.62 500.24 L1055.43 481.22 L1069.25 467.18 L1083.06 456.36 L1096.87 449.93 L1110.68 441.15 L1124.49 434.42 L1138.3 429.45 L1152.12 425.06 L1165.93 420.68 L1179.74 416.29 L1193.55 413.36 L1207.36 411.02 L1221.17 408.98 L1234.98 406.34 L1248.8 406.05 L1262.61 404.3 L1276.42 402.25 L1290.23 400.49 L1304.04 399.91 L1317.85 397.57 L1331.66 392.89 L1345.48 396.4 L1359.29 397.57 L1373.1 396.69 L1386.91 396.11 L1400.72 397.57 L1414.53 397.28 L1428.35 396.4 L1442.16 395.81 L1455.97 393.47 L1469.78 394.06 L1483.59 392.89 L1497.4 392.6 L1497.4 393.77 L1483.59 394.06 L1469.78 395.23 L1455.97 394.64 L1442.16 396.99 L1428.35 397.57 L1414.53 398.45 L1400.72 398.74 L1386.91 397.28 L1373.1 397.86 L1359.29 398.74 L1345.48 399.91 L1331.66 401.08 L1317.85 401.08 L1304.04 401.08 L1290.23 401.66 L1276.42 403.42 L1262.61 405.47 L1248.8 407.22 L1234.98 407.51 L1221.17 410.15 L1207.36 412.19 L1193.55 414.53 L1179.74 417.46 L1165.93 421.85 L1152.12 426.24 L1138.3 430.62 L1124.49 435.59 L1110.68 442.32 L1096.87 451.1 L1083.06 459.29 L1069.25 471.86 L1055.43 487.07 L1041.62 503.16 L1027.81 534.46Z" fill="#df3531" fill-opacity="0.25"/>
<path d="M1014 302.8 L1027.81 533.88 L1041.62 501.7 L1055.43 484.15 L1069.25 469.52 L1083.06 457.82 L1096.87 450.51 L1110.68 441.74 L1124.49 435.01 L1138.3 430.04 L1152.12 425.65 L1165.93 421.26 L1179.74 416.88 L1193.55 413.95 L1207.36 411.61 L1221.17 409.56 L1234.98 406.93 L1248.8 406.64 L1262.61 404.88 L1276.42 402.83 L1290.23 401.08 L1304.04 400.5 L1317.85 399.32 L1331.66 396.99 L1345.48 398.15 L1359.29 398.15 L1373.1 397.28 L1386.91 396.69 L1400.72 398.15 L1414.53 397.86 L1428.35 396.99 L1442.16 396.4 L1455.97 394.06 L1469.78 394.64 L1483.59 393.47 L1497.4 393.18" fill="none" stroke="#df3531" stroke-width="1.3" stroke-linejoin="round"/>
<g fill="#df3531"><circle cx="1027.81" cy="533.88" r="3.5"/><circle cx="1041.62" cy="501.7" r="3.5"/><circle cx="1055.43" cy="484.15" r="3.5"/><circle cx="1069.25" cy="469.52" r="3.5"/><circle cx="1083.06" cy="457.82" r="3.5"/><circle cx="1096.87" cy="450.51" r="3.5"/><circle cx="1110.68" cy="441.74" r="3.5"/><circle cx="1124.49" cy="435.01" r="3.5"/><circle cx="1138.3" cy="430.04" r="3.5"/><circle cx="1152.12" cy="425.65" r="3.5"/><circle cx="1165.93" cy="421.26" r="3.5"/><circle cx="1179.74" cy="416.88" r="3.5"/><circle cx="1193.55" cy="413.95" r="3.5"/><circle cx="1207.36" cy="411.61" r="3.5"/><circle cx="1221.17" cy="409.56" r="3.5"/><circle cx="1234.98" cy="406.93" r="3.5"/><circle cx="1248.8" cy="406.64" r="3.5"/><circle cx="1262.61" cy="404.88" r="3.5"/><circle cx="1276.42" cy="402.83" r="3.5"/><circle cx="1290.23" cy="401.08" r="3.5"/><circle cx="1304.04" cy="400.5" r="3.5"/><circle cx="1317.85" cy="399.32" r="3.5"/><circle cx="1331.66" cy="396.99" r="3.5"/><circle cx="1345.48" cy="398.15" r="3.5"/><circle cx="1359.29" cy="398.15" r="3.5"/><circle cx="1373.1" cy="397.28" r="3.5"/><circle cx="1386.91" cy="396.69" r="3.5"/><circle cx="1400.72" cy="398.15" r="3.5"/><circle cx="1414.53" cy="397.86" r="3.5"/><circle cx="1428.35" cy="396.99" r="3.5"/><circle cx="1442.16" cy="396.4" r="3.5"/><circle cx="1455.97" cy="394.06" r="3.5"/><circle cx="1469.78" cy="394.64" r="3.5"/><circle cx="1483.59" cy="393.47" r="3.5"/><circle cx="1497.4" cy="393.18" r="3.5"/></g>
<path d="M1014 302.8 L1027.81 544.11 L1041.62 526.56 L1055.43 511.94 L1069.25 503.16 L1083.06 495.85 L1096.87 490 L1110.68 484.15 L1124.49 481.22 L1138.3 477.13 L1152.12 473.91 L1165.93 469.52 L1179.74 468.06 L1193.55 463.67 L1207.36 460.75 L1221.17 458.7 L1234.98 456.36 L1248.8 455.49 L1262.61 454.02 L1276.42 452.27 L1290.23 450.51 L1304.04 447 L1317.85 446.12 L1331.66 447 L1345.48 444.08 L1359.29 441.15 L1373.1 438.81 L1386.91 437.35 L1400.72 436.76 L1414.53 435.59 L1428.35 433.84 L1442.16 432.67 L1455.97 431.5 L1469.78 432.08 L1483.59 430.04 L1497.4 429.16" fill="none" stroke="#41a660" stroke-width="1.3" stroke-linejoin="round"/>
<g fill="#41a660"><circle cx="1027.81" cy="544.11" r="3.5"/><circle cx="1041.62" cy="526.56" r="3.5"/><circle cx="1055.43" cy="511.94" r="3.5"/><circle cx="1069.25" cy="503.16" r="3.5"/><circle cx="1083.06" cy="495.85" r="3.5"/><circle cx="1096.87" cy="490" r="3.5"/><circle cx="1110.68" cy="484.15" r="3.5"/><circle cx="1124.49" cy="481.22" r="3.5"/><circle cx="1138.3" cy="477.13" r="3.5"/><circle cx="1152.12" cy="473.91" r="3.5"/><circle cx="1165.93" cy="469.52" r="3.5"/><circle cx="1179.74" cy="468.06" r="3.5"/><circle cx="1193.55" cy="463.67" r="3.5"/><circle cx="1207.36" cy="460.75" r="3.5"/><circle cx="1221.17" cy="458.7" r="3.5"/><circle cx="1234.98" cy="456.36" r="3.5"/><circle cx="1248.8" cy="455.49" r="3.5"/><circle cx="1262.61" cy="454.02" r="3.5"/><circle cx="1276.42" cy="452.27" r="3.5"/><circle cx="1290.23" cy="450.51" r="3.5"/><circle cx="1304.04" cy="447" r="3.5"/><circle cx="1317.85" cy="446.12" r="3.5"/><circle cx="1331.66" cy="447" r="3.5"/><circle cx="1345.48" cy="444.08" r="3.5"/><circle cx="1359.29" cy="441.15" r="3.5"/><circle cx="1373.1" cy="438.81" r="3.5"/><circle cx="1386.91" cy="437.35" r="3.5"/><circle cx="1400.72" cy="436.76" r="3.5"/><circle cx="1414.53" cy="435.59" r="3.5"/><circle cx="1428.35" cy="433.84" r="3.5"/><circle cx="1442.16" cy="432.67" r="3.5"/><circle cx="1455.97" cy="431.5" r="3.5"/><circle cx="1469.78" cy="432.08" r="3.5"/><circle cx="1483.59" cy="430.04" r="3.5"/><circle cx="1497.4" cy="429.16" r="3.5"/></g>
<path d="M1014 302.8 L1027.81 533.88 L1041.62 504.62 L1055.43 487.07 L1069.25 473.91 L1083.06 464.55 L1096.87 454.9 L1110.68 449.05 L1124.49 444.66 L1138.3 441.74 L1152.12 438.52 L1165.93 434.42 L1179.74 431.79 L1193.55 430.04 L1207.36 427.11 L1221.17 425.06 L1234.98 422.72 L1248.8 421.55 L1262.61 420.09 L1276.42 418.92 L1290.23 419.21 L1304.04 418.92 L1317.85 418.63 L1331.66 416.88 L1345.48 415.7 L1359.29 416 L1373.1 415.41 L1386.91 413.36 L1400.72 414.24 L1414.53 413.36 L1428.35 412.49 L1442.16 411.9 L1455.97 410.44 L1469.78 409.56 L1483.59 409.56 L1497.4 409.27" fill="none" stroke="#7f5db6" stroke-width="1.3" stroke-linejoin="round"/>
<g fill="#7f5db6"><circle cx="1027.81" cy="533.88" r="3.5"/><circle cx="1041.62" cy="504.62" r="3.5"/><circle cx="1055.43" cy="487.07" r="3.5"/><circle cx="1069.25" cy="473.91" r="3.5"/><circle cx="1083.06" cy="464.55" r="3.5"/><circle cx="1096.87" cy="454.9" r="3.5"/><circle cx="1110.68" cy="449.05" r="3.5"/><circle cx="1124.49" cy="444.66" r="3.5"/><circle cx="1138.3" cy="441.74" r="3.5"/><circle cx="1152.12" cy="438.52" r="3.5"/><circle cx="1165.93" cy="434.42" r="3.5"/><circle cx="1179.74" cy="431.79" r="3.5"/><circle cx="1193.55" cy="430.04" r="3.5"/><circle cx="1207.36" cy="427.11" r="3.5"/><circle cx="1221.17" cy="425.06" r="3.5"/><circle cx="1234.98" cy="422.72" r="3.5"/><circle cx="1248.8" cy="421.55" r="3.5"/><circle cx="1262.61" cy="420.09" r="3.5"/><circle cx="1276.42" cy="418.92" r="3.5"/><circle cx="1290.23" cy="419.21" r="3.5"/><circle cx="1304.04" cy="418.92" r="3.5"/><circle cx="1317.85" cy="418.63" r="3.5"/><circle cx="1331.66" cy="416.88" r="3.5"/><circle cx="1345.48" cy="415.7" r="3.5"/><circle cx="1359.29" cy="416" r="3.5"/><circle cx="1373.1" cy="415.41" r="3.5"/><circle cx="1386.91" cy="413.36" r="3.5"/><circle cx="1400.72" cy="414.24" r="3.5"/><circle cx="1414.53" cy="413.36" r="3.5"/><circle cx="1428.35" cy="412.49" r="3.5"/><circle cx="1442.16" cy="411.9" r="3.5"/><circle cx="1455.97" cy="410.44" r="3.5"/><circle cx="1469.78" cy="409.56" r="3.5"/><circle cx="1483.59" cy="409.56" r="3.5"/><circle cx="1497.4" cy="409.27" r="3.5"/></g>
<path d="M1014 302.8 L1027.81 536.8 L1041.62 513.4 L1055.43 500.24 L1069.25 489.41 L1083.06 481.22 L1096.87 475.67 L1110.68 470.69 L1124.49 466.6 L1138.3 460.75 L1152.12 459.29 L1165.93 456.36 L1179.74 453.44 L1193.55 451.68 L1207.36 449.93 L1221.17 447.59 L1234.98 446.12 L1248.8 445.54 L1262.61 444.95 L1276.42 443.78 L1290.23 443.2 L1304.04 442.61 L1317.85 440.86 L1331.66 438.81 L1345.48 438.52 L1359.29 437.64 L1373.1 436.76 L1386.91 436.18 L1400.72 435.59 L1414.53 434.72 L1428.35 434.42 L1442.16 433.25 L1455.97 432.08 L1469.78 432.96 L1483.59 433.25 L1497.4 433.55" fill="none" stroke="#ea8f3c" stroke-width="1.3" stroke-linejoin="round"/>
<g fill="#ea8f3c"><circle cx="1027.81" cy="536.8" r="3.5"/><circle cx="1041.62" cy="513.4" r="3.5"/><circle cx="1055.43" cy="500.24" r="3.5"/><circle cx="1069.25" cy="489.41" r="3.5"/><circle cx="1083.06" cy="481.22" r="3.5"/><circle cx="1096.87" cy="475.67" r="3.5"/><circle cx="1110.68" cy="470.69" r="3.5"/><circle cx="1124.49" cy="466.6" r="3.5"/><circle cx="1138.3" cy="460.75" r="3.5"/><circle cx="1152.12" cy="459.29" r="3.5"/><circle cx="1165.93" cy="456.36" r="3.5"/><circle cx="1179.74" cy="453.44" r="3.5"/><circle cx="1193.55" cy="451.68" r="3.5"/><circle cx="1207.36" cy="449.93" r="3.5"/><circle cx="1221.17" cy="447.59" r="3.5"/><circle cx="1234.98" cy="446.12" r="3.5"/><circle cx="1248.8" cy="445.54" r="3.5"/><circle cx="1262.61" cy="444.95" r="3.5"/><circle cx="1276.42" cy="443.78" r="3.5"/><circle cx="1290.23" cy="443.2" r="3.5"/><circle cx="1304.04" cy="442.61" r="3.5"/><circle cx="1317.85" cy="440.86" r="3.5"/><circle cx="1331.66" cy="438.81" r="3.5"/><circle cx="1345.48" cy="438.52" r="3.5"/><circle cx="1359.29" cy="437.64" r="3.5"/><circle cx="1373.1" cy="436.76" r="3.5"/><circle cx="1386.91" cy="436.18" r="3.5"/><circle cx="1400.72" cy="435.59" r="3.5"/><circle cx="1414.53" cy="434.72" r="3.5"/><circle cx="1428.35" cy="434.42" r="3.5"/><circle cx="1442.16" cy="433.25" r="3.5"/><circle cx="1455.97" cy="432.08" r="3.5"/><circle cx="1469.78" cy="432.96" r="3.5"/><circle cx="1483.59" cy="433.25" r="3.5"/><circle cx="1497.4" cy="433.55" r="3.5"/></g>
<path d="M1014 302.8 L1027.81 538.26 L1041.62 522.17 L1055.43 511.94 L1069.25 507.55 L1083.06 503.16 L1096.87 498.77 L1110.68 494.68 L1124.49 492.63 L1138.3 490 L1152.12 487.07 L1165.93 482.69 L1179.74 480.93 L1193.55 476.84 L1207.36 474.2 L1221.17 473.03 L1234.98 471.28 L1248.8 471.57 L1262.61 469.52 L1276.42 467.77 L1290.23 465.43 L1304.04 463.67 L1317.85 463.67 L1331.66 462.8 L1345.48 462.21 L1359.29 460.75 L1373.1 460.46 L1386.91 458.7 L1400.72 458.99 L1414.53 457.82 L1428.35 456.36 L1442.16 456.36 L1455.97 454.9 L1469.78 453.73 L1483.59 454.61 L1497.4 452.27" fill="none" stroke="#3f7fca" stroke-width="1.3" stroke-linejoin="round"/>
<g fill="#3f7fca"><circle cx="1027.81" cy="538.26" r="3.5"/><circle cx="1041.62" cy="522.17" r="3.5"/><circle cx="1055.43" cy="511.94" r="3.5"/><circle cx="1069.25" cy="507.55" r="3.5"/><circle cx="1083.06" cy="503.16" r="3.5"/><circle cx="1096.87" cy="498.77" r="3.5"/><circle cx="1110.68" cy="494.68" r="3.5"/><circle cx="1124.49" cy="492.63" r="3.5"/><circle cx="1138.3" cy="490" r="3.5"/><circle cx="1152.12" cy="487.07" r="3.5"/><circle cx="1165.93" cy="482.69" r="3.5"/><circle cx="1179.74" cy="480.93" r="3.5"/><circle cx="1193.55" cy="476.84" r="3.5"/><circle cx="1207.36" cy="474.2" r="3.5"/><circle cx="1221.17" cy="473.03" r="3.5"/><circle cx="1234.98" cy="471.28" r="3.5"/><circle cx="1248.8" cy="471.57" r="3.5"/><circle cx="1262.61" cy="469.52" r="3.5"/><circle cx="1276.42" cy="467.77" r="3.5"/><circle cx="1290.23" cy="465.43" r="3.5"/><circle cx="1304.04" cy="463.67" r="3.5"/><circle cx="1317.85" cy="463.67" r="3.5"/><circle cx="1331.66" cy="462.8" r="3.5"/><circle cx="1345.48" cy="462.21" r="3.5"/><circle cx="1359.29" cy="460.75" r="3.5"/><circle cx="1373.1" cy="460.46" r="3.5"/><circle cx="1386.91" cy="458.7" r="3.5"/><circle cx="1400.72" cy="458.99" r="3.5"/><circle cx="1414.53" cy="457.82" r="3.5"/><circle cx="1428.35" cy="456.36" r="3.5"/><circle cx="1442.16" cy="456.36" r="3.5"/><circle cx="1455.97" cy="454.9" r="3.5"/><circle cx="1469.78" cy="453.73" r="3.5"/><circle cx="1483.59" cy="454.61" r="3.5"/><circle cx="1497.4" cy="452.27" r="3.5"/></g>
<path d="M1014 302.8 L1027.81 532.7 L1041.62 475.37 L1055.43 449.05 L1069.25 431.5 L1083.06 415.41 L1096.87 406.64 L1110.68 399.32 L1124.49 393.47 L1138.3 390.55 L1152.12 382.65 L1165.93 382.65 L1179.74 378.85 L1193.55 378.85 L1207.36 373.58 L1221.17 370.95 L1234.98 368.03 L1248.8 365.69 L1262.61 361.59 L1276.42 363.35 L1290.23 359.54 L1304.04 362.47 L1317.85 356.91 L1331.66 359.25 L1345.48 357.2 L1359.29 356.62 L1373.1 354.28 L1386.91 355.74 L1400.72 351.65 L1414.53 351.06 L1428.35 351.94 L1442.16 353.4 L1455.97 352.52 L1469.78 354.86 L1483.59 354.28 L1497.4 357.2" fill="none" stroke="#636363" stroke-width="1.3" stroke-linejoin="round"/>
<g fill="#636363"><circle cx="1027.81" cy="532.7" r="3.5"/><circle cx="1041.62" cy="475.37" r="3.5"/><circle cx="1055.43" cy="449.05" r="3.5"/><circle cx="1069.25" cy="431.5" r="3.5"/><circle cx="1083.06" cy="415.41" r="3.5"/><circle cx="1096.87" cy="406.64" r="3.5"/><circle cx="1110.68" cy="399.32" r="3.5"/><circle cx="1124.49" cy="393.47" r="3.5"/><circle cx="1138.3" cy="390.55" r="3.5"/><circle cx="1152.12" cy="382.65" r="3.5"/><circle cx="1165.93" cy="382.65" r="3.5"/><circle cx="1179.74" cy="378.85" r="3.5"/><circle cx="1193.55" cy="378.85" r="3.5"/><circle cx="1207.36" cy="373.58" r="3.5"/><circle cx="1221.17" cy="370.95" r="3.5"/><circle cx="1234.98" cy="368.03" r="3.5"/><circle cx="1248.8" cy="365.69" r="3.5"/><circle cx="1262.61" cy="361.59" r="3.5"/><circle cx="1276.42" cy="363.35" r="3.5"/><circle cx="1290.23" cy="359.54" r="3.5"/><circle cx="1304.04" cy="362.47" r="3.5"/><circle cx="1317.85" cy="356.91" r="3.5"/><circle cx="1331.66" cy="359.25" r="3.5"/><circle cx="1345.48" cy="357.2" r="3.5"/><circle cx="1359.29" cy="356.62" r="3.5"/><circle cx="1373.1" cy="354.28" r="3.5"/><circle cx="1386.91" cy="355.74" r="3.5"/><circle cx="1400.72" cy="351.65" r="3.5"/><circle cx="1414.53" cy="351.06" r="3.5"/><circle cx="1428.35" cy="351.94" r="3.5"/><circle cx="1442.16" cy="353.4" r="3.5"/><circle cx="1455.97" cy="352.52" r="3.5"/><circle cx="1469.78" cy="354.86" r="3.5"/><circle cx="1483.59" cy="354.28" r="3.5"/><circle cx="1497.4" cy="357.2" r="3.5"/></g>
<path d="M1014 604.3 V273.4 H1497.4 V604.3 M1005 595.3 H1497.4" fill="none" stroke="#1a1a1a" stroke-width="2.2"/>
<path d="M1005 522.17 H1014 M1005 449.05 H1014 M1005 375.92 H1014 M1005 302.8 H1014 M1083.06 595.3 V604.3 M1152.12 595.3 V604.3 M1221.17 595.3 V604.3 M1290.23 595.3 V604.3 M1359.29 595.3 V604.3 M1428.35 595.3 V604.3 " fill="none" stroke="#1a1a1a" stroke-width="2.2"/>
<circle cx="1014" cy="302.8" r="3.6" fill="#636363"/>
<g font-weight="bold" fill="#1a1a1a">
<text x="1000.7" y="603.3" font-size="24" text-anchor="end" fill="#1a1a1a">0</text>
<text x="1000.7" y="530.17" font-size="24" text-anchor="end" fill="#1a1a1a">25</text>
<text x="1000.7" y="457.05" font-size="24" text-anchor="end" fill="#1a1a1a">50</text>
<text x="1000.7" y="383.92" font-size="24" text-anchor="end" fill="#1a1a1a">75</text>
<text x="1000.7" y="310.8" font-size="24" text-anchor="end" fill="#1a1a1a">100</text>
<text x="1014" y="631.1" font-size="24.2" text-anchor="middle" fill="#1a1a1a">0</text>
<text x="1083.06" y="631.1" font-size="24.2" text-anchor="middle" fill="#1a1a1a">25</text>
<text x="1152.12" y="631.1" font-size="24.2" text-anchor="middle" fill="#1a1a1a">50</text>
<text x="1221.17" y="631.1" font-size="24.2" text-anchor="middle" fill="#1a1a1a">75</text>
<text x="1290.23" y="631.1" font-size="24.2" text-anchor="middle" fill="#1a1a1a">100</text>
<text x="1359.29" y="631.1" font-size="24.2" text-anchor="middle" fill="#1a1a1a">125</text>
<text x="1428.35" y="631.1" font-size="24.2" text-anchor="middle" fill="#1a1a1a">150</text>
<text x="1497.4" y="631.1" font-size="24.2" text-anchor="middle" fill="#1a1a1a">175</text>
<text x="1255.9" y="665.6" font-size="25.9" text-anchor="middle" fill="#1a1a1a">Time (s)</text>
<text x="943.2" y="434" font-size="26.1" text-anchor="middle" fill="#1a1a1a" transform="rotate(-90 943.2 434)">Fluorescence (%)</text>
</g>
<line x1="1569.7" y1="293.7" x2="1603.9" y2="293.7" stroke="#636363" stroke-width="4.2" stroke-linecap="round"/><circle cx="1586.8" cy="293.7" r="3" fill="#636363"/>
<text x="1624.3" y="303" font-size="26" fill="#111">Bcl-XL</text>
<line x1="1571.5" y1="339.2" x2="1605.7" y2="339.2" stroke="#3f7fca" stroke-width="4.2" stroke-linecap="round"/><circle cx="1588.6" cy="339.2" r="3" fill="#3f7fca"/>
<text x="1625.6" y="348.5" font-size="26" fill="#111">+tBid</text>
<line x1="1571.5" y1="383" x2="1605.7" y2="383" stroke="#ea8f3c" stroke-width="4.2" stroke-linecap="round"/><circle cx="1588.6" cy="383" r="3" fill="#ea8f3c"/>
<text x="1625.6" y="392.3" font-size="26" fill="#111">+Bim</text>
<line x1="1571.5" y1="426.7" x2="1605.7" y2="426.7" stroke="#7f5db6" stroke-width="4.2" stroke-linecap="round"/><circle cx="1588.6" cy="426.7" r="3" fill="#7f5db6"/>
<text x="1625.6" y="436" font-size="26" fill="#111">+PUMA</text>
<line x1="1571.5" y1="470.5" x2="1605.7" y2="470.5" stroke="#41a660" stroke-width="4.2" stroke-linecap="round"/><circle cx="1588.6" cy="470.5" r="3" fill="#41a660"/>
<text x="1625.6" y="479.8" font-size="26" fill="#111">+Bad</text>
<line x1="1571.5" y1="514.3" x2="1605.7" y2="514.3" stroke="#df3531" stroke-width="4.2" stroke-linecap="round"/><circle cx="1588.6" cy="514.3" r="3" fill="#df3531"/>
<text x="1625.6" y="523.6" font-size="26" fill="#111">+Noxa</text>
<text x="1504.8" y="406" font-size="27" fill="#df3531" letter-spacing="0.45">*</text>
<text x="1504.8" y="423" font-size="27" fill="#7f5db6" letter-spacing="0.45">**</text>
<text x="1504.8" y="435.8" font-size="27" fill="#41a660" letter-spacing="0.45">***</text>
<text x="1504.8" y="448.5" font-size="27" fill="#ea8f3c" letter-spacing="0.45">***</text>
<text x="1504.8" y="470.2" font-size="27" fill="#3f7fca" letter-spacing="0.45">****</text>
</g>
<g id="chartB">
<path d="M257.6 951.8 L281.24 1130.19 L304.88 1105.73 L328.52 1091.46 L352.16 1081.26 L375.8 1075.15 L399.44 1070.39 L423.08 1067.67 L446.72 1064.95 L470.36 1061.9 L494 1058.84 L517.64 1056.8 L541.28 1054.76 L564.92 1052.72 L588.56 1050.68 L612.2 1049.15 L635.84 1047.62 L659.48 1046.09 L683.12 1044.57 L706.76 1043.04 L730.4 1041.51 L754.04 1039.98 L777.68 1038.45 L801.32 1037.43 L824.96 1036.41 L848.6 1036.92 L872.24 1037.43 L872.24 1060.88 L848.6 1062.57 L824.96 1064.27 L801.32 1065.63 L777.68 1066.99 L754.04 1068.69 L730.4 1070.39 L706.76 1071.75 L683.12 1073.11 L659.48 1074.13 L635.84 1075.15 L612.2 1077.87 L588.56 1080.58 L564.92 1083.98 L541.28 1087.38 L517.64 1090.1 L494 1092.82 L470.36 1095.88 L446.72 1098.93 L423.08 1103.86 L399.44 1108.79 L375.8 1114.9 L352.16 1122.04 L328.52 1132.23 L304.88 1146.51 L281.24 1175.05 L257.6 951.8Z" fill="#000" fill-opacity="0.09"/>
<path d="M257.6 951.8 L281.24 1085.34 L304.88 1049.66 L328.52 1029.61 L352.16 1021.12 L375.8 1015 L399.44 1009.91 L423.08 1005.15 L446.72 1001.07 L470.36 998.01 L494 994.95 L517.64 992.92 L541.28 990.88 L564.92 990.54 L588.56 990.2 L612.2 989.01 L635.84 987.82 L659.48 986.8 L683.12 985.78 L706.76 984.25 L730.4 982.72 L754.04 982.72 L777.68 982.72 L801.32 982.38 L824.96 982.04 L848.6 983.74 L872.24 981.02 L872.24 1005.15 L848.6 1003.11 L824.96 1007.19 L801.32 1008.04 L777.68 1008.89 L754.04 1011.1 L730.4 1013.3 L706.76 1015.34 L683.12 1017.38 L659.48 1018.74 L635.84 1020.1 L612.2 1022.82 L588.56 1025.54 L564.92 1028.93 L541.28 1032.33 L517.64 1036.92 L494 1041.51 L470.36 1047.11 L446.72 1052.72 L423.08 1061.9 L399.44 1070.05 L375.8 1080.58 L352.16 1093.5 L328.52 1111.85 L304.88 1142.43 L281.24 1177.09 L257.6 951.8Z" fill="#000" fill-opacity="0.19"/>
<g fill="#b1b1b1"><circle cx="257.6" cy="951.12" r="5.4"/><circle cx="281.24" cy="1152.96" r="5.4"/><circle cx="304.88" cy="1125.44" r="5.4"/><circle cx="328.52" cy="1111.85" r="5.4"/><circle cx="352.16" cy="1103.01" r="5.4"/><circle cx="375.8" cy="1095.2" r="5.4"/><circle cx="399.44" cy="1089.08" r="5.4"/><circle cx="423.08" cy="1085" r="5.4"/><circle cx="446.72" cy="1080.58" r="5.4"/><circle cx="470.36" cy="1077.19" r="5.4"/><circle cx="494" cy="1074.47" r="5.4"/><circle cx="517.64" cy="1072.43" r="5.4"/><circle cx="541.28" cy="1070.39" r="5.4"/><circle cx="564.92" cy="1067.33" r="5.4"/><circle cx="588.56" cy="1064.95" r="5.4"/><circle cx="612.2" cy="1062.57" r="5.4"/><circle cx="635.84" cy="1061.56" r="5.4"/><circle cx="659.48" cy="1060.88" r="5.4"/><circle cx="683.12" cy="1059.52" r="5.4"/><circle cx="706.76" cy="1057.14" r="5.4"/><circle cx="730.4" cy="1055.78" r="5.4"/><circle cx="754.04" cy="1054.08" r="5.4"/><circle cx="777.68" cy="1052.72" r="5.4"/><circle cx="801.32" cy="1051.7" r="5.4"/><circle cx="824.96" cy="1050.34" r="5.4"/><circle cx="848.6" cy="1049.32" r="5.4"/><circle cx="872.24" cy="1049.32" r="5.4"/></g>
<g fill="#3d3d3d"><circle cx="257.6" cy="954.18" r="5.4"/><circle cx="281.24" cy="1131.21" r="5.4"/><circle cx="304.88" cy="1087.72" r="5.4"/><circle cx="328.52" cy="1064.95" r="5.4"/><circle cx="352.16" cy="1051.7" r="5.4"/><circle cx="375.8" cy="1041.51" r="5.4"/><circle cx="399.44" cy="1035.05" r="5.4"/><circle cx="423.08" cy="1028.25" r="5.4"/><circle cx="446.72" cy="1022.82" r="5.4"/><circle cx="470.36" cy="1019.42" r="5.4"/><circle cx="494" cy="1015" r="5.4"/><circle cx="517.64" cy="1012.62" r="5.4"/><circle cx="541.28" cy="1010.59" r="5.4"/><circle cx="564.92" cy="1008.89" r="5.4"/><circle cx="588.56" cy="1006.51" r="5.4"/><circle cx="612.2" cy="1003.79" r="5.4"/><circle cx="635.84" cy="1004.47" r="5.4"/><circle cx="659.48" cy="1003.11" r="5.4"/><circle cx="683.12" cy="1001.07" r="5.4"/><circle cx="706.76" cy="999.71" r="5.4"/><circle cx="730.4" cy="998.35" r="5.4"/><circle cx="754.04" cy="996.99" r="5.4"/><circle cx="777.68" cy="996.31" r="5.4"/><circle cx="801.32" cy="995.63" r="5.4"/><circle cx="824.96" cy="993.6" r="5.4"/><circle cx="848.6" cy="993.6" r="5.4"/><circle cx="872.24" cy="993.26" r="5.4"/></g>
<path d="M257.6 1301.6 V882.8 H872.6 V1301.6 M247.6 1291.6 H872.6 M247.6 1206.65 H257.6 M247.6 1121.7 H257.6 M247.6 1036.75 H257.6 M247.6 951.8 H257.6 M375.8 1291.6 V1301.6 M494 1291.6 V1301.6 M612.2 1291.6 V1301.6 M730.4 1291.6 V1301.6 M848.6 1291.6 V1301.6 " fill="none" stroke="#1c1c1c" stroke-width="2.2"/>
<g font-weight="bold" fill="#1c1c1c">
<text x="241.1" y="1301.2" font-size="30.3" text-anchor="end" fill="#1c1c1c">0</text>
<text x="241.1" y="1216.25" font-size="30.3" text-anchor="end" fill="#1c1c1c">25</text>
<text x="241.1" y="1131.3" font-size="30.3" text-anchor="end" fill="#1c1c1c">50</text>
<text x="241.1" y="1046.35" font-size="30.3" text-anchor="end" fill="#1c1c1c">75</text>
<text x="241.1" y="961.4" font-size="30.3" text-anchor="end" fill="#1c1c1c">100</text>
<text x="257.6" y="1337" font-size="30.3" text-anchor="middle" fill="#1c1c1c">0</text>
<text x="375.8" y="1337" font-size="30.3" text-anchor="middle" fill="#1c1c1c">25</text>
<text x="494" y="1337" font-size="30.3" text-anchor="middle" fill="#1c1c1c">50</text>
<text x="612.2" y="1337" font-size="30.3" text-anchor="middle" fill="#1c1c1c">75</text>
<text x="730.4" y="1337" font-size="30.3" text-anchor="middle" fill="#1c1c1c">100</text>
<text x="848.6" y="1337" font-size="30.3" text-anchor="middle" fill="#1c1c1c">125</text>
<text x="566" y="1380.5" font-size="32.6" text-anchor="middle" fill="#1c1c1c">Time (s)</text>
<text x="167.3" y="1087" font-size="32.9" text-anchor="middle" fill="#1c1c1c" transform="rotate(-90 167.3 1087)">Fluorescence (%)</text>
<text x="615.5" y="1213.8" font-size="33.1" fill="#111">+ Serum</text>
<text x="615.5" y="1270" font-size="33.1" fill="#111">Serum starved</text>
</g>
<circle cx="568.5" cy="1202" r="5.4" fill="#3d3d3d"/><circle cx="568.5" cy="1258" r="5.4" fill="#b1b1b1"/>
</g>
<g id="chartBar">
<rect x="1116" y="974.56" width="138.2" height="344.34" fill="#333" stroke="#000" stroke-width="2.6"/>
<rect x="1272.3" y="1042.26" width="138.2" height="276.64" fill="#fff" stroke="#000" stroke-width="2.6"/>
<path d="M1080.7 1318.9 V875.8 H1446.2 V1318.9 M1069.7 1318.9 H1446.2 M1069.7 1218.45 H1080.7 M1069.7 1118 H1080.7 M1069.7 1017.55 H1080.7 M1069.7 917.1 H1080.7 M1185.1 1318.9 V1330.9 M1341.4 1318.9 V1330.9 M1150.8 963.1 H1219.4 M1150.8 984.6 H1219.4 M1185.1 963.1 V984.6 M1307 1030.3 H1376 M1307 1052.3 H1376 M1341.4 1030.3 V1052.3 M1185.1 948.5 V939.2 H1341 V1016.5" fill="none" stroke="#0d0d0d" stroke-width="2.6"/>
<g font-weight="bold" fill="#111">
<text x="1063.7" y="1330.4" font-size="32" text-anchor="end" fill="#111">0</text>
<text x="1063.7" y="1229.95" font-size="32" text-anchor="end" fill="#111">25</text>
<text x="1063.7" y="1129.5" font-size="32" text-anchor="end" fill="#111">50</text>
<text x="1063.7" y="1029.05" font-size="32" text-anchor="end" fill="#111">75</text>
<text x="1063.7" y="928.6" font-size="32" text-anchor="end" fill="#111">100</text>
<text x="1185" y="1359.3" font-size="24" text-anchor="middle" fill="#111">Serum</text>
<text x="1341.3" y="1359.3" font-size="24" text-anchor="middle" fill="#111">Serum-starved</text>
<text x="990.5" y="1097.5" font-size="36.5" text-anchor="middle" fill="#111" transform="rotate(-90 990.5 1097.5)">Fluorescence recovery (%)</text>
</g>
<text x="1263.8" y="934.5" font-size="29" font-weight="bold" text-anchor="middle" fill="#111">*</text>
</g>
<g id="chartC">
<path d="M1081.28 1744.48 L1085.25 1727.18 L1089.23 1711.34 L1093.2 1697.47 L1097.18 1694.82 L1101.16 1685.24 L1105.13 1674.38 L1109.11 1668.84 L1113.08 1661.31 L1117.06 1658.22 L1121.04 1648.83 L1125.01 1641.39 L1128.99 1634.31 L1132.96 1631.91 L1136.94 1625.12 L1140.92 1623.05 L1144.89 1616.63 L1148.87 1614.29 L1152.84 1613.33 L1156.82 1607.34 L1160.8 1602.16 L1164.77 1598.78 L1168.75 1596.97 L1172.72 1592.94 L1176.7 1590.01 L1180.68 1587.99 L1184.65 1581.02 L1188.63 1582.1 L1192.6 1580.19 L1196.58 1582.13 L1200.56 1579.9 L1204.53 1575.28 L1208.51 1572.12 L1212.48 1567.59 L1216.46 1567.59 L1220.44 1569.46 L1224.41 1565.31 L1228.39 1564.88 L1232.36 1566.77 L1236.34 1561.79 L1240.32 1558.62 L1244.29 1559.03 L1248.27 1561.61 L1252.24 1561.05 L1256.22 1556.33 L1260.2 1552.96 L1264.17 1550.69 L1268.15 1545.48 L1272.12 1551.16 L1276.1 1551.46 L1280.08 1550.76 L1284.05 1547.2 L1288.03 1550.79 L1292 1547.06 L1295.98 1547.5 L1299.96 1544.88 L1303.93 1543.73 L1307.91 1540.26 L1311.88 1538.39 L1315.86 1541.11 L1319.84 1539.53 L1323.81 1538.26 L1327.79 1535.88 L1331.76 1535 L1335.74 1532.08 L1339.72 1531.07 L1343.69 1535.04 L1347.67 1534.13 L1351.64 1531.78 L1355.62 1530.54 L1359.6 1532.76 L1363.57 1527.52 L1367.55 1528.56 L1371.52 1529.45 L1375.5 1526.58 L1379.48 1530.33 L1383.45 1526.73 L1387.43 1526.13 L1391.4 1526.01 L1395.38 1523.71 L1399.36 1521.85 L1403.33 1524.36 L1407.31 1524.5 L1411.28 1520.38 L1415.26 1523.28 L1419.24 1520.5 L1423.21 1525.13 L1427.19 1520.93 L1431.16 1521.59 L1435.14 1522.24 L1439.12 1518.92 L1443.09 1519.21 L1447.07 1515.87 L1451.04 1514.18 L1455.02 1512.42 L1459 1519.25 L1462.97 1514.23 L1466.95 1519.84 L1470.92 1521.72 L1474.9 1521.9 L1478.88 1521.88 L1482.85 1523.04 L1486.83 1518.27 L1490.8 1518.31 L1494.78 1517.32 L1498.76 1518.35 L1502.73 1519.28 L1506.71 1517.67 L1510.68 1513.42 L1514.66 1515.24 L1518.64 1513.89 L1522.61 1508.86 L1526.59 1512.3 L1530.56 1510.37 L1534.54 1507.63 L1538.52 1508.85 L1542.49 1512.62 L1546.47 1507.96 L1550.44 1512.38 L1554.42 1509.05 L1558.4 1507.75 L1562.37 1509.74 L1566.35 1512.03 L1570.32 1512.48 L1574.3 1508.41 L1574.3 1539.59 L1570.32 1534.9 L1566.35 1534.4 L1562.37 1535.3 L1558.4 1533.93 L1554.42 1534.7 L1550.44 1535.49 L1546.47 1537.33 L1542.49 1538.46 L1538.52 1539.48 L1534.54 1534.18 L1530.56 1538.99 L1526.59 1536.63 L1522.61 1536.99 L1518.64 1541.24 L1514.66 1541.73 L1510.68 1542.05 L1506.71 1545.41 L1502.73 1543.2 L1498.76 1543.8 L1494.78 1546.61 L1490.8 1549.44 L1486.83 1548.21 L1482.85 1549.01 L1478.88 1547.95 L1474.9 1544.88 L1470.92 1546.35 L1466.95 1547.24 L1462.97 1543.58 L1459 1546.17 L1455.02 1540.42 L1451.04 1544.52 L1447.07 1541.3 L1443.09 1545.15 L1439.12 1543.46 L1435.14 1546.3 L1431.16 1547.02 L1427.19 1543 L1423.21 1550.69 L1419.24 1547.38 L1415.26 1545.15 L1411.28 1547.89 L1407.31 1547.36 L1403.33 1545.28 L1399.36 1547.38 L1395.38 1547.41 L1391.4 1549.75 L1387.43 1550.88 L1383.45 1548.45 L1379.48 1552.58 L1375.5 1547.87 L1371.52 1552.52 L1367.55 1549.17 L1363.57 1551.48 L1359.6 1554.29 L1355.62 1551.39 L1351.64 1553.76 L1347.67 1554.7 L1343.69 1556.5 L1339.72 1551.49 L1335.74 1556.38 L1331.76 1552.47 L1327.79 1559.02 L1323.81 1559.49 L1319.84 1560.87 L1315.86 1560.63 L1311.88 1557.54 L1307.91 1560.74 L1303.93 1562.29 L1299.96 1567.1 L1295.98 1565.71 L1292 1567.57 L1288.03 1572.32 L1284.05 1567.51 L1280.08 1571.16 L1276.1 1570.69 L1272.12 1571.38 L1268.15 1565.53 L1264.17 1569.21 L1260.2 1570.81 L1256.22 1573.44 L1252.24 1578.11 L1248.27 1577.64 L1244.29 1578.98 L1240.32 1579.69 L1236.34 1579.8 L1232.36 1583.24 L1228.39 1582.12 L1224.41 1582.91 L1220.44 1585.18 L1216.46 1584.3 L1212.48 1587.38 L1208.51 1586.72 L1204.53 1593.27 L1200.56 1596.14 L1196.58 1600.02 L1192.6 1599.05 L1188.63 1597.62 L1184.65 1599.61 L1180.68 1605.66 L1176.7 1607.13 L1172.72 1608.19 L1168.75 1611.95 L1164.77 1613.72 L1160.8 1618.37 L1156.82 1620.27 L1152.84 1627.97 L1148.87 1629.96 L1144.89 1631.6 L1140.92 1639.13 L1136.94 1640.92 L1132.96 1646.82 L1128.99 1646.29 L1125.01 1656.01 L1121.04 1661.63 L1117.06 1672.3 L1113.08 1675.86 L1109.11 1681.37 L1105.13 1688.11 L1101.16 1699.21 L1097.18 1706.17 L1093.2 1709.57 L1089.23 1722.91 L1085.25 1739.29 L1081.28 1755.99Z" fill="#6e6e6e" fill-opacity="0.2"/>
<path d="M1081.28 1733.88 L1085.25 1709.08 L1089.23 1690.08 L1093.2 1671.95 L1097.18 1657.96 L1101.16 1643.07 L1105.13 1630.71 L1109.11 1621.11 L1113.08 1608.34 L1117.06 1596.83 L1121.04 1589.78 L1125.01 1583.08 L1128.99 1577.09 L1132.96 1570.53 L1136.94 1562.15 L1140.92 1559.9 L1144.89 1550.95 L1148.87 1551.8 L1152.84 1548.94 L1156.82 1542.05 L1160.8 1544.26 L1164.77 1542.04 L1168.75 1537.49 L1172.72 1532.87 L1176.7 1531.39 L1180.68 1530.04 L1184.65 1521.89 L1188.63 1521.79 L1192.6 1524.79 L1196.58 1516.67 L1200.56 1513.41 L1204.53 1510.18 L1208.51 1512.44 L1212.48 1515.98 L1216.46 1510.67 L1220.44 1509.43 L1224.41 1510.95 L1228.39 1509.48 L1232.36 1507.6 L1236.34 1505.77 L1240.32 1506.85 L1244.29 1502.73 L1248.27 1507.07 L1252.24 1501.13 L1256.22 1499.63 L1260.2 1503.07 L1264.17 1501.73 L1268.15 1497.61 L1272.12 1493.73 L1276.1 1497.16 L1280.08 1493.7 L1284.05 1499.99 L1288.03 1497.35 L1292 1497.58 L1295.98 1496.69 L1299.96 1495.14 L1303.93 1498.2 L1307.91 1494.35 L1311.88 1490.77 L1315.86 1494.44 L1319.84 1496.46 L1323.81 1495 L1327.79 1497.73 L1331.76 1502.02 L1335.74 1499.87 L1339.72 1504.03 L1343.69 1503.27 L1347.67 1495.41 L1351.64 1500.7 L1355.62 1499.96 L1359.6 1500.04 L1363.57 1496.66 L1367.55 1498.88 L1371.52 1498.53 L1375.5 1498.65 L1379.48 1502.49 L1383.45 1504.68 L1387.43 1503.59 L1391.4 1500.24 L1395.38 1504.35 L1399.36 1504.2 L1403.33 1503.38 L1407.31 1500.15 L1411.28 1500.27 L1415.26 1500.13 L1419.24 1501.15 L1423.21 1499.05 L1427.19 1501.49 L1431.16 1503.49 L1435.14 1505.52 L1439.12 1501.67 L1443.09 1502.68 L1447.07 1497.57 L1451.04 1500.38 L1455.02 1497.65 L1459 1500.2 L1462.97 1494.1 L1466.95 1499.83 L1470.92 1501.96 L1474.9 1498.56 L1478.88 1497.09 L1482.85 1505.19 L1486.83 1502.28 L1490.8 1505.86 L1494.78 1503.1 L1498.76 1503.43 L1502.73 1500.98 L1506.71 1501.11 L1510.68 1497.64 L1514.66 1503.5 L1518.64 1504.95 L1522.61 1500.3 L1526.59 1506.47 L1530.56 1506.54 L1534.54 1505.79 L1538.52 1502.97 L1542.49 1505.18 L1546.47 1504.06 L1550.44 1511.09 L1554.42 1509.15 L1558.4 1505.75 L1562.37 1513.59 L1566.35 1512.3 L1570.32 1509.15 L1574.3 1513.03 L1574.3 1544.12 L1570.32 1539.7 L1566.35 1544.29 L1562.37 1546.01 L1558.4 1544.48 L1554.42 1542.88 L1550.44 1540.58 L1546.47 1539.72 L1542.49 1539.41 L1538.52 1539.17 L1534.54 1537.72 L1530.56 1537.32 L1526.59 1535.29 L1522.61 1532.63 L1518.64 1535.59 L1514.66 1532.3 L1510.68 1531.25 L1506.71 1535.12 L1502.73 1532.65 L1498.76 1531.07 L1494.78 1532.51 L1490.8 1533.23 L1486.83 1532.99 L1482.85 1535.74 L1478.88 1529.15 L1474.9 1531.84 L1470.92 1529.17 L1466.95 1534.44 L1462.97 1528.76 L1459 1532.67 L1455.02 1531.66 L1451.04 1531.28 L1447.07 1531.48 L1443.09 1536.4 L1439.12 1532.63 L1435.14 1536.57 L1431.16 1539.75 L1427.19 1535.25 L1423.21 1530.39 L1419.24 1534.52 L1415.26 1529.87 L1411.28 1532.49 L1407.31 1531.19 L1403.33 1532.14 L1399.36 1530.66 L1395.38 1534.49 L1391.4 1530.24 L1387.43 1534.64 L1383.45 1531.6 L1379.48 1530.92 L1375.5 1528.86 L1371.52 1528.79 L1367.55 1527.16 L1363.57 1527.48 L1359.6 1523.66 L1355.62 1525.98 L1351.64 1530.53 L1347.67 1523.85 L1343.69 1527.21 L1339.72 1528.95 L1335.74 1526.92 L1331.76 1529.97 L1327.79 1527.62 L1323.81 1519.07 L1319.84 1521.59 L1315.86 1517.11 L1311.88 1517.61 L1307.91 1522.27 L1303.93 1522.43 L1299.96 1517.03 L1295.98 1520.54 L1292 1520.79 L1288.03 1522.94 L1284.05 1521.73 L1280.08 1519.34 L1276.1 1516.55 L1272.12 1519.69 L1268.15 1516.75 L1264.17 1521.9 L1260.2 1524.69 L1256.22 1522.86 L1252.24 1525.32 L1248.27 1526.28 L1244.29 1524.14 L1240.32 1530.94 L1236.34 1526.26 L1232.36 1529.76 L1228.39 1528.94 L1224.41 1535.05 L1220.44 1529.56 L1216.46 1531.34 L1212.48 1532.15 L1208.51 1531.96 L1204.53 1528.97 L1200.56 1535.07 L1196.58 1535.82 L1192.6 1542.85 L1188.63 1539.8 L1184.65 1541.58 L1180.68 1547.13 L1176.7 1548.43 L1172.72 1550.54 L1168.75 1552.49 L1164.77 1558 L1160.8 1562.36 L1156.82 1561.55 L1152.84 1566.48 L1148.87 1569.37 L1144.89 1568.44 L1140.92 1579.18 L1136.94 1576.55 L1132.96 1586.2 L1128.99 1592.16 L1125.01 1598.56 L1121.04 1605.04 L1117.06 1612.73 L1113.08 1621.13 L1109.11 1636.37 L1105.13 1644.6 L1101.16 1657.64 L1097.18 1673.99 L1093.2 1684.66 L1089.23 1705.88 L1085.25 1724.87 L1081.28 1748.43Z" fill="#ff2a00" fill-opacity="0.24"/>
<g fill="#ff2a00"><circle cx="1081.28" cy="1741.32" r="3.05"/><circle cx="1085.25" cy="1717.18" r="3.05"/><circle cx="1089.23" cy="1698.24" r="3.05"/><circle cx="1093.2" cy="1678.92" r="3.05"/><circle cx="1097.18" cy="1665.55" r="3.05"/><circle cx="1101.16" cy="1649.21" r="3.05"/><circle cx="1105.13" cy="1637.33" r="3.05"/><circle cx="1109.11" cy="1628.78" r="3.05"/><circle cx="1113.08" cy="1615.04" r="3.05"/><circle cx="1117.06" cy="1605.76" r="3.05"/><circle cx="1121.04" cy="1596.47" r="3.05"/><circle cx="1125.01" cy="1589.79" r="3.05"/><circle cx="1128.99" cy="1583.85" r="3.05"/><circle cx="1132.96" cy="1579.76" r="3.05"/><circle cx="1136.94" cy="1569.36" r="3.05"/><circle cx="1140.92" cy="1569.36" r="3.05"/><circle cx="1144.89" cy="1560.82" r="3.05"/><circle cx="1148.87" cy="1560.82" r="3.05"/><circle cx="1152.84" cy="1558.96" r="3.05"/><circle cx="1156.82" cy="1552.28" r="3.05"/><circle cx="1160.8" cy="1552.28" r="3.05"/><circle cx="1164.77" cy="1549.68" r="3.05"/><circle cx="1168.75" cy="1544.85" r="3.05"/><circle cx="1172.72" cy="1542.25" r="3.05"/><circle cx="1176.7" cy="1541.13" r="3.05"/><circle cx="1180.68" cy="1538.53" r="3.05"/><circle cx="1184.65" cy="1531.11" r="3.05"/><circle cx="1188.63" cy="1531.11" r="3.05"/><circle cx="1192.6" cy="1532.59" r="3.05"/><circle cx="1196.58" cy="1524.42" r="3.05"/><circle cx="1200.56" cy="1524.42" r="3.05"/><circle cx="1204.53" cy="1521.08" r="3.05"/><circle cx="1208.51" cy="1522.62" r="3.05"/><circle cx="1212.48" cy="1524.14" r="3.05"/><circle cx="1216.46" cy="1522.56" r="3.05"/><circle cx="1220.44" cy="1520.63" r="3.05"/><circle cx="1224.41" cy="1523.03" r="3.05"/><circle cx="1228.39" cy="1519.23" r="3.05"/><circle cx="1232.36" cy="1519.2" r="3.05"/><circle cx="1236.34" cy="1517.36" r="3.05"/><circle cx="1240.32" cy="1519.03" r="3.05"/><circle cx="1244.29" cy="1515.39" r="3.05"/><circle cx="1248.27" cy="1517.22" r="3.05"/><circle cx="1252.24" cy="1513.9" r="3.05"/><circle cx="1256.22" cy="1512.54" r="3.05"/><circle cx="1260.2" cy="1513.36" r="3.05"/><circle cx="1264.17" cy="1511.5" r="3.05"/><circle cx="1268.15" cy="1507.34" r="3.05"/><circle cx="1272.12" cy="1507.41" r="3.05"/><circle cx="1276.1" cy="1506.59" r="3.05"/><circle cx="1280.08" cy="1505.47" r="3.05"/><circle cx="1284.05" cy="1510.46" r="3.05"/><circle cx="1288.03" cy="1510.69" r="3.05"/><circle cx="1292" cy="1509.11" r="3.05"/><circle cx="1295.98" cy="1510.68" r="3.05"/><circle cx="1299.96" cy="1507.2" r="3.05"/><circle cx="1303.93" cy="1508.59" r="3.05"/><circle cx="1307.91" cy="1508.84" r="3.05"/><circle cx="1311.88" cy="1504.58" r="3.05"/><circle cx="1315.86" cy="1506.59" r="3.05"/><circle cx="1319.84" cy="1510.77" r="3.05"/><circle cx="1323.81" cy="1507.44" r="3.05"/><circle cx="1327.79" cy="1512.3" r="3.05"/><circle cx="1331.76" cy="1514.65" r="3.05"/><circle cx="1335.74" cy="1514.02" r="3.05"/><circle cx="1339.72" cy="1516" r="3.05"/><circle cx="1343.69" cy="1514.57" r="3.05"/><circle cx="1347.67" cy="1511.25" r="3.05"/><circle cx="1351.64" cy="1514.73" r="3.05"/><circle cx="1355.62" cy="1512.54" r="3.05"/><circle cx="1359.6" cy="1512.35" r="3.05"/><circle cx="1363.57" cy="1512.31" r="3.05"/><circle cx="1367.55" cy="1514.19" r="3.05"/><circle cx="1371.52" cy="1513.44" r="3.05"/><circle cx="1375.5" cy="1514.02" r="3.05"/><circle cx="1379.48" cy="1517.66" r="3.05"/><circle cx="1383.45" cy="1518.72" r="3.05"/><circle cx="1387.43" cy="1518.89" r="3.05"/><circle cx="1391.4" cy="1517.11" r="3.05"/><circle cx="1395.38" cy="1519.22" r="3.05"/><circle cx="1399.36" cy="1518.98" r="3.05"/><circle cx="1403.33" cy="1518.99" r="3.05"/><circle cx="1407.31" cy="1516.71" r="3.05"/><circle cx="1411.28" cy="1516.83" r="3.05"/><circle cx="1415.26" cy="1515.88" r="3.05"/><circle cx="1419.24" cy="1518.11" r="3.05"/><circle cx="1423.21" cy="1516.21" r="3.05"/><circle cx="1427.19" cy="1517.82" r="3.05"/><circle cx="1431.16" cy="1521.56" r="3.05"/><circle cx="1435.14" cy="1521.08" r="3.05"/><circle cx="1439.12" cy="1519.23" r="3.05"/><circle cx="1443.09" cy="1518.11" r="3.05"/><circle cx="1447.07" cy="1514.62" r="3.05"/><circle cx="1451.04" cy="1514.07" r="3.05"/><circle cx="1455.02" cy="1514.02" r="3.05"/><circle cx="1459" cy="1515.65" r="3.05"/><circle cx="1462.97" cy="1511.91" r="3.05"/><circle cx="1466.95" cy="1517.41" r="3.05"/><circle cx="1470.92" cy="1515.99" r="3.05"/><circle cx="1474.9" cy="1515.88" r="3.05"/><circle cx="1478.88" cy="1514.65" r="3.05"/><circle cx="1482.85" cy="1518.54" r="3.05"/><circle cx="1486.83" cy="1516.84" r="3.05"/><circle cx="1490.8" cy="1519.81" r="3.05"/><circle cx="1494.78" cy="1517.36" r="3.05"/><circle cx="1498.76" cy="1516.74" r="3.05"/><circle cx="1502.73" cy="1516.54" r="3.05"/><circle cx="1506.71" cy="1518.04" r="3.05"/><circle cx="1510.68" cy="1516.62" r="3.05"/><circle cx="1514.66" cy="1519.22" r="3.05"/><circle cx="1518.64" cy="1520.7" r="3.05"/><circle cx="1522.61" cy="1518.8" r="3.05"/><circle cx="1526.59" cy="1519.78" r="3.05"/><circle cx="1530.56" cy="1520.23" r="3.05"/><circle cx="1534.54" cy="1521.08" r="3.05"/><circle cx="1538.52" cy="1522.3" r="3.05"/><circle cx="1542.49" cy="1520.99" r="3.05"/><circle cx="1546.47" cy="1521.33" r="3.05"/><circle cx="1550.44" cy="1525.1" r="3.05"/><circle cx="1554.42" cy="1525.91" r="3.05"/><circle cx="1558.4" cy="1525.15" r="3.05"/><circle cx="1562.37" cy="1528.96" r="3.05"/><circle cx="1566.35" cy="1525.38" r="3.05"/><circle cx="1570.32" cy="1525.92" r="3.05"/><circle cx="1574.3" cy="1527.02" r="3.05"/></g>
<g fill="#6e6e6e"><circle cx="1081.28" cy="1750.6" r="3.05"/><circle cx="1085.25" cy="1733.52" r="3.05"/><circle cx="1089.23" cy="1716.43" r="3.05"/><circle cx="1093.2" cy="1704.55" r="3.05"/><circle cx="1097.18" cy="1700.46" r="3.05"/><circle cx="1101.16" cy="1691.55" r="3.05"/><circle cx="1105.13" cy="1680.78" r="3.05"/><circle cx="1109.11" cy="1674.47" r="3.05"/><circle cx="1113.08" cy="1668.9" r="3.05"/><circle cx="1117.06" cy="1665.55" r="3.05"/><circle cx="1121.04" cy="1654.41" r="3.05"/><circle cx="1125.01" cy="1648.47" r="3.05"/><circle cx="1128.99" cy="1639.93" r="3.05"/><circle cx="1132.96" cy="1638.81" r="3.05"/><circle cx="1136.94" cy="1633.24" r="3.05"/><circle cx="1140.92" cy="1631.38" r="3.05"/><circle cx="1144.89" cy="1624.7" r="3.05"/><circle cx="1148.87" cy="1622.84" r="3.05"/><circle cx="1152.84" cy="1619.5" r="3.05"/><circle cx="1156.82" cy="1613.93" r="3.05"/><circle cx="1160.8" cy="1609.47" r="3.05"/><circle cx="1164.77" cy="1605.76" r="3.05"/><circle cx="1168.75" cy="1604.27" r="3.05"/><circle cx="1172.72" cy="1600.93" r="3.05"/><circle cx="1176.7" cy="1599.07" r="3.05"/><circle cx="1180.68" cy="1597.22" r="3.05"/><circle cx="1184.65" cy="1590.53" r="3.05"/><circle cx="1188.63" cy="1589.04" r="3.05"/><circle cx="1192.6" cy="1589.79" r="3.05"/><circle cx="1196.58" cy="1590.53" r="3.05"/><circle cx="1200.56" cy="1587.19" r="3.05"/><circle cx="1204.53" cy="1583.85" r="3.05"/><circle cx="1208.51" cy="1579.05" r="3.05"/><circle cx="1212.48" cy="1577.71" r="3.05"/><circle cx="1216.46" cy="1577.16" r="3.05"/><circle cx="1220.44" cy="1576.87" r="3.05"/><circle cx="1224.41" cy="1574.93" r="3.05"/><circle cx="1228.39" cy="1572.05" r="3.05"/><circle cx="1232.36" cy="1574" r="3.05"/><circle cx="1236.34" cy="1570.1" r="3.05"/><circle cx="1240.32" cy="1569.34" r="3.05"/><circle cx="1244.29" cy="1569.9" r="3.05"/><circle cx="1248.27" cy="1569.2" r="3.05"/><circle cx="1252.24" cy="1568.53" r="3.05"/><circle cx="1256.22" cy="1565.28" r="3.05"/><circle cx="1260.2" cy="1561.03" r="3.05"/><circle cx="1264.17" cy="1561.51" r="3.05"/><circle cx="1268.15" cy="1556.73" r="3.05"/><circle cx="1272.12" cy="1560.27" r="3.05"/><circle cx="1276.1" cy="1561.19" r="3.05"/><circle cx="1280.08" cy="1560.87" r="3.05"/><circle cx="1284.05" cy="1557.48" r="3.05"/><circle cx="1288.03" cy="1560.7" r="3.05"/><circle cx="1292" cy="1557.89" r="3.05"/><circle cx="1295.98" cy="1556.73" r="3.05"/><circle cx="1299.96" cy="1555.06" r="3.05"/><circle cx="1303.93" cy="1551.92" r="3.05"/><circle cx="1307.91" cy="1550.84" r="3.05"/><circle cx="1311.88" cy="1549.2" r="3.05"/><circle cx="1315.86" cy="1549.68" r="3.05"/><circle cx="1319.84" cy="1549.86" r="3.05"/><circle cx="1323.81" cy="1548.19" r="3.05"/><circle cx="1327.79" cy="1547.51" r="3.05"/><circle cx="1331.76" cy="1543.82" r="3.05"/><circle cx="1335.74" cy="1544.85" r="3.05"/><circle cx="1339.72" cy="1541.73" r="3.05"/><circle cx="1343.69" cy="1545.18" r="3.05"/><circle cx="1347.67" cy="1544.3" r="3.05"/><circle cx="1351.64" cy="1543.27" r="3.05"/><circle cx="1355.62" cy="1541.13" r="3.05"/><circle cx="1359.6" cy="1541.85" r="3.05"/><circle cx="1363.57" cy="1539.88" r="3.05"/><circle cx="1367.55" cy="1538.67" r="3.05"/><circle cx="1371.52" cy="1539.69" r="3.05"/><circle cx="1375.5" cy="1537.79" r="3.05"/><circle cx="1379.48" cy="1540.07" r="3.05"/><circle cx="1383.45" cy="1537.62" r="3.05"/><circle cx="1387.43" cy="1537.58" r="3.05"/><circle cx="1391.4" cy="1536.26" r="3.05"/><circle cx="1395.38" cy="1536.31" r="3.05"/><circle cx="1399.36" cy="1533.58" r="3.05"/><circle cx="1403.33" cy="1534.57" r="3.05"/><circle cx="1407.31" cy="1535.11" r="3.05"/><circle cx="1411.28" cy="1534.21" r="3.05"/><circle cx="1415.26" cy="1534.45" r="3.05"/><circle cx="1419.24" cy="1533.53" r="3.05"/><circle cx="1423.21" cy="1536.77" r="3.05"/><circle cx="1427.19" cy="1532.37" r="3.05"/><circle cx="1431.16" cy="1532.99" r="3.05"/><circle cx="1435.14" cy="1534.45" r="3.05"/><circle cx="1439.12" cy="1531.16" r="3.05"/><circle cx="1443.09" cy="1530.23" r="3.05"/><circle cx="1447.07" cy="1531" r="3.05"/><circle cx="1451.04" cy="1529.63" r="3.05"/><circle cx="1455.02" cy="1527.76" r="3.05"/><circle cx="1459" cy="1530.87" r="3.05"/><circle cx="1462.97" cy="1529.15" r="3.05"/><circle cx="1466.95" cy="1533.16" r="3.05"/><circle cx="1470.92" cy="1534.17" r="3.05"/><circle cx="1474.9" cy="1532.96" r="3.05"/><circle cx="1478.88" cy="1534.11" r="3.05"/><circle cx="1482.85" cy="1533.98" r="3.05"/><circle cx="1486.83" cy="1532.68" r="3.05"/><circle cx="1490.8" cy="1533.8" r="3.05"/><circle cx="1494.78" cy="1531.11" r="3.05"/><circle cx="1498.76" cy="1533.04" r="3.05"/><circle cx="1502.73" cy="1531.58" r="3.05"/><circle cx="1506.71" cy="1531.17" r="3.05"/><circle cx="1510.68" cy="1529.14" r="3.05"/><circle cx="1514.66" cy="1527.76" r="3.05"/><circle cx="1518.64" cy="1529.19" r="3.05"/><circle cx="1522.61" cy="1523.74" r="3.05"/><circle cx="1526.59" cy="1524.05" r="3.05"/><circle cx="1530.56" cy="1525.43" r="3.05"/><circle cx="1534.54" cy="1522.56" r="3.05"/><circle cx="1538.52" cy="1523.85" r="3.05"/><circle cx="1542.49" cy="1523.36" r="3.05"/><circle cx="1546.47" cy="1523.27" r="3.05"/><circle cx="1550.44" cy="1524.53" r="3.05"/><circle cx="1554.42" cy="1522.56" r="3.05"/><circle cx="1558.4" cy="1520.97" r="3.05"/><circle cx="1562.37" cy="1520.45" r="3.05"/><circle cx="1566.35" cy="1523.41" r="3.05"/><circle cx="1570.32" cy="1523.54" r="3.05"/><circle cx="1574.3" cy="1523.68" r="3.05"/></g>
<path d="M1077.3 1800 V1428.6 H1574.6 V1800 M1077.3 1800 H1574.6" fill="none" stroke="#000" stroke-width="3.5" stroke-linecap="square"/>
<path d="M1062.8 1800 H1077.3 M1062.8 1725.72 H1077.3 M1062.8 1651.44 H1077.3 M1062.8 1577.16 H1077.3 M1062.8 1502.88 H1077.3 M1062.8 1428.6 H1077.3 M1077.3 1800 V1816 M1176.7 1800 V1816 M1276.1 1800 V1816 M1375.5 1800 V1816 M1474.9 1800 V1816 M1574.3 1800 V1816 " fill="none" stroke="#000" stroke-width="4.8"/>
<g font-weight="bold" fill="#000">
<text transform="translate(1058.1 1810.1) scale(0.815 1)" font-size="29.5" text-anchor="end">0</text>
<text transform="translate(1058.1 1735.82) scale(0.815 1)" font-size="29.5" text-anchor="end">20</text>
<text transform="translate(1058.1 1661.54) scale(0.815 1)" font-size="29.5" text-anchor="end">40</text>
<text transform="translate(1058.1 1587.26) scale(0.815 1)" font-size="29.5" text-anchor="end">60</text>
<text transform="translate(1058.1 1512.98) scale(0.815 1)" font-size="29.5" text-anchor="end">80</text>
<text transform="translate(1058.1 1438.7) scale(0.815 1)" font-size="29.5" text-anchor="end">100</text>
<text transform="translate(1077.3 1847.4) scale(0.815 1)" font-size="29.5" text-anchor="middle">0</text>
<text transform="translate(1176.7 1847.4) scale(0.815 1)" font-size="29.5" text-anchor="middle">25</text>
<text transform="translate(1276.1 1847.4) scale(0.815 1)" font-size="29.5" text-anchor="middle">50</text>
<text transform="translate(1375.5 1847.4) scale(0.815 1)" font-size="29.5" text-anchor="middle">75</text>
<text transform="translate(1474.9 1847.4) scale(0.815 1)" font-size="29.5" text-anchor="middle">100</text>
<text transform="translate(1574.3 1847.4) scale(0.815 1)" font-size="29.5" text-anchor="middle">125</text>
<text transform="translate(1326.3 1892.5) scale(0.813 1)" font-size="31" text-anchor="middle">Time (s)</text>
<text transform="translate(1003.9 1614) rotate(-90) scale(1.07 1)" font-size="27.8" text-anchor="middle">Fluorescence (%)</text>
</g>
<circle cx="1252.8" cy="1721" r="6" fill="#ff2a00"/><circle cx="1252.8" cy="1766" r="6" fill="#757575"/>
<text x="1266.5" y="1733.2" font-size="35.6" textLength="300" lengthAdjust="spacingAndGlyphs">GFP-Bcl-XLR139D</text>
<text x="1266.5" y="1778" font-size="35.6">GFP-Bcl-XL</text>
</g>
<g id="panelD">
<rect x="71" y="1999.7" width="1621.6" height="489.2" fill="#fff" stroke="#231f20" stroke-width="6"/>
<use href="#gp" transform="translate(139 2125.5) rotate(-128) scale(0.95)"/>
<use href="#gp" transform="translate(236 2089.5) rotate(3) scale(0.95)"/>
<use href="#gp" transform="translate(189.7 2191) rotate(-95) scale(0.95)"/>
<use href="#gp" transform="translate(224.5 2277.5) rotate(57) scale(0.95)"/>
<path d="M270.5 2168.9 H375.8 L344.6 2151.7 M375.8 2191.9 H291.2 L316.8 2211.8" fill="none" stroke="#231f20" stroke-width="5.4" stroke-linecap="round" stroke-linejoin="round"/>
<use href="#gp" transform="translate(437.5 2149.5) rotate(-40) scale(0.93)"/>
<use href="#gp" transform="translate(549 2061) rotate(50) scale(0.93)"/>
<use href="#rp" transform="translate(580.5 2049.5) rotate(8) scale(0.95)"/>
<use href="#gp" transform="translate(573 2265.5) rotate(150) scale(0.93)"/>
<g transform="translate(507.3 2170.4)"><ellipse rx="45.5" ry="117.4" fill="#f8f8f8" stroke="#000" stroke-width="6.2" transform="rotate(-1.8)"/><path d="M-1.0 -94.1 C2.3 -95.1 2.6 -95.1 5.9 -94.1 C9.2 -93.2 8.0 -95.3 10.1 -91.1 C12.1 -86.9 13.2 -87.9 12.8 -80.1 C12.4 -72.2 12.0 -74.4 8.7 -64.9 C5.4 -55.4 4.7 -55.8 1.8 -48.4 C-1.1 -40.9 -1.0 -44.7 -1.0 -40.1 C-1.0 -35.6 -0.7 -35.7 1.8 -33.2 C4.3 -30.7 4.0 -29.8 7.3 -31.8 C10.6 -33.9 7.9 -36.4 12.8 -40.1 C17.8 -43.8 18.9 -45.9 23.8 -44.2 C28.8 -42.6 27.3 -40.4 29.4 -34.6 C31.4 -28.8 32.4 -31.2 30.7 -25.0 C29.1 -18.7 28.4 -20.5 23.8 -13.9 C19.3 -7.3 18.7 -8.7 15.6 -2.9 C12.5 2.9 14.0 1.2 13.5 5.4 C13.0 9.6 8.3 8.7 13.9 11.2 C19.5 13.6 25.4 11.2 32.1 13.6 C38.8 16.0 35.0 15.9 36.3 19.2 C37.5 22.5 40.4 19.7 36.3 24.7 C32.1 29.6 28.1 29.5 22.5 35.7 C16.9 41.9 17.2 39.1 17.6 45.4 C18.1 51.6 20.7 49.8 23.8 56.4 C26.9 63.0 26.5 61.6 28.0 67.4 C29.4 73.2 29.5 70.7 28.7 75.7 C27.8 80.6 28.3 80.2 25.2 83.9 C22.1 87.7 22.1 88.5 18.3 88.1 C14.6 87.7 15.1 87.9 12.8 82.6 C10.5 77.2 11.6 76.8 10.8 70.2 C9.9 63.5 11.9 65.1 10.1 60.5 C8.2 56.0 7.9 57.1 4.5 55.0 C1.2 52.9 5.2 52.0 -1.0 53.6 C-7.2 55.3 -9.9 59.7 -16.1 60.5 C-22.3 61.3 -19.4 59.7 -21.6 56.4 C-23.9 53.1 -24.5 53.6 -23.7 49.5 C-22.9 45.4 -24.5 46.9 -18.9 42.6 C-13.3 38.3 -11.7 39.1 -5.1 35.0 C1.5 30.9 0.3 32.7 3.2 28.8 C6.1 24.9 5.4 25.2 4.5 21.9 C3.7 18.6 5.4 19.4 0.4 17.8 C-4.5 16.1 -6.2 16.6 -12.0 16.4 C-17.8 16.2 -14.3 17.9 -18.9 17.1 C-23.4 16.3 -23.6 16.7 -27.2 13.6 C-30.7 10.5 -30.6 11.3 -30.6 6.8 C-30.6 2.2 -30.7 2.6 -27.2 -1.5 C-23.6 -5.7 -24.7 -4.8 -18.9 -7.0 C-13.1 -9.3 -12.0 -7.0 -7.9 -9.1 C-3.7 -11.2 -4.7 -11.4 -5.1 -13.9 C-5.5 -16.4 -3.4 -15.3 -9.2 -17.4 C-15.0 -19.4 -17.6 -18.1 -24.4 -20.8 C-31.2 -23.5 -29.3 -22.6 -32.0 -26.3 C-34.7 -30.1 -34.4 -28.3 -33.4 -33.2 C-32.3 -38.2 -31.6 -37.9 -28.5 -42.9 C-25.4 -47.8 -25.5 -45.2 -23.0 -49.8 C-20.5 -54.3 -22.3 -54.9 -20.3 -58.0 C-18.2 -61.1 -19.0 -60.5 -16.1 -60.1 C-13.2 -59.7 -13.5 -57.3 -10.6 -56.7 C-7.7 -56.0 -8.5 -54.7 -6.5 -58.0 C-4.4 -61.3 -4.3 -60.7 -3.7 -67.7 C-3.1 -74.7 -4.1 -74.4 -4.4 -81.5 C-4.7 -88.5 -5.9 -87.3 -4.8 -91.1 C-3.8 -94.9 -4.2 -93.2 -1.0 -94.1Z" fill="none" stroke="#000" stroke-width="2.7" stroke-linejoin="round"/></g>
<use href="#rp" transform="translate(896 2099) rotate(-8)"/>
<use href="#gp" transform="translate(856.5 2223) rotate(-127) scale(0.95)"/>
<path d="M931.6 2154.3 H1027.4 L999.2 2136.6 M999.2 2176.5 H965.4 L976.7 2191.1" fill="none" stroke="#231f20" stroke-width="5.4" stroke-linecap="round" stroke-linejoin="round"/>
<use href="#gp" transform="translate(1204 2039) rotate(72) scale(0.93)"/>
<use href="#rp" transform="translate(1238 2041) scale(0.95)"/>
<use href="#gp" transform="translate(1086.5 2124) rotate(-43) scale(0.93)"/>
<use href="#rp" transform="translate(1089.5 2101) scale(0.95)"/>
<use href="#gp" transform="translate(1239.8 2140.4) rotate(111) scale(0.93)"/>
<use href="#rp" transform="translate(1256.8 2164.8) rotate(10) scale(0.95)"/>
<use href="#gp" transform="translate(1087.6 2211.8) rotate(-62) scale(0.93)"/>
<use href="#rp" transform="translate(1093 2238) rotate(5) scale(0.95)"/>
<use href="#gp" transform="translate(1224.8 2249.4) rotate(114) scale(0.93)"/>
<use href="#rp" transform="translate(1243.6 2270) rotate(10) scale(0.95)"/>
<use href="#gp" transform="translate(1129 2296.4) rotate(-103) scale(0.93)"/>
<g transform="translate(1162 2162.9)"><ellipse rx="45.5" ry="117" fill="#f8f8f8" stroke="#000" stroke-width="6.2" transform="rotate(-1.8)"/><path d="M-1.0 -94.1 C2.3 -95.1 2.6 -95.1 5.9 -94.1 C9.2 -93.2 8.0 -95.3 10.1 -91.1 C12.1 -86.9 13.2 -87.9 12.8 -80.1 C12.4 -72.2 12.0 -74.4 8.7 -64.9 C5.4 -55.4 4.7 -55.8 1.8 -48.4 C-1.1 -40.9 -1.0 -44.7 -1.0 -40.1 C-1.0 -35.6 -0.7 -35.7 1.8 -33.2 C4.3 -30.7 4.0 -29.8 7.3 -31.8 C10.6 -33.9 7.9 -36.4 12.8 -40.1 C17.8 -43.8 18.9 -45.9 23.8 -44.2 C28.8 -42.6 27.3 -40.4 29.4 -34.6 C31.4 -28.8 32.4 -31.2 30.7 -25.0 C29.1 -18.7 28.4 -20.5 23.8 -13.9 C19.3 -7.3 18.7 -8.7 15.6 -2.9 C12.5 2.9 14.0 1.2 13.5 5.4 C13.0 9.6 8.3 8.7 13.9 11.2 C19.5 13.6 25.4 11.2 32.1 13.6 C38.8 16.0 35.0 15.9 36.3 19.2 C37.5 22.5 40.4 19.7 36.3 24.7 C32.1 29.6 28.1 29.5 22.5 35.7 C16.9 41.9 17.2 39.1 17.6 45.4 C18.1 51.6 20.7 49.8 23.8 56.4 C26.9 63.0 26.5 61.6 28.0 67.4 C29.4 73.2 29.5 70.7 28.7 75.7 C27.8 80.6 28.3 80.2 25.2 83.9 C22.1 87.7 22.1 88.5 18.3 88.1 C14.6 87.7 15.1 87.9 12.8 82.6 C10.5 77.2 11.6 76.8 10.8 70.2 C9.9 63.5 11.9 65.1 10.1 60.5 C8.2 56.0 7.9 57.1 4.5 55.0 C1.2 52.9 5.2 52.0 -1.0 53.6 C-7.2 55.3 -9.9 59.7 -16.1 60.5 C-22.3 61.3 -19.4 59.7 -21.6 56.4 C-23.9 53.1 -24.5 53.6 -23.7 49.5 C-22.9 45.4 -24.5 46.9 -18.9 42.6 C-13.3 38.3 -11.7 39.1 -5.1 35.0 C1.5 30.9 0.3 32.7 3.2 28.8 C6.1 24.9 5.4 25.2 4.5 21.9 C3.7 18.6 5.4 19.4 0.4 17.8 C-4.5 16.1 -6.2 16.6 -12.0 16.4 C-17.8 16.2 -14.3 17.9 -18.9 17.1 C-23.4 16.3 -23.6 16.7 -27.2 13.6 C-30.7 10.5 -30.6 11.3 -30.6 6.8 C-30.6 2.2 -30.7 2.6 -27.2 -1.5 C-23.6 -5.7 -24.7 -4.8 -18.9 -7.0 C-13.1 -9.3 -12.0 -7.0 -7.9 -9.1 C-3.7 -11.2 -4.7 -11.4 -5.1 -13.9 C-5.5 -16.4 -3.4 -15.3 -9.2 -17.4 C-15.0 -19.4 -17.6 -18.1 -24.4 -20.8 C-31.2 -23.5 -29.3 -22.6 -32.0 -26.3 C-34.7 -30.1 -34.4 -28.3 -33.4 -33.2 C-32.3 -38.2 -31.6 -37.9 -28.5 -42.9 C-25.4 -47.8 -25.5 -45.2 -23.0 -49.8 C-20.5 -54.3 -22.3 -54.9 -20.3 -58.0 C-18.2 -61.1 -19.0 -60.5 -16.1 -60.1 C-13.2 -59.7 -13.5 -57.3 -10.6 -56.7 C-7.7 -56.0 -8.5 -54.7 -6.5 -58.0 C-4.4 -61.3 -4.3 -60.7 -3.7 -67.7 C-3.1 -74.7 -4.1 -74.4 -4.4 -81.5 C-4.7 -88.5 -5.9 -87.3 -4.8 -91.1 C-3.8 -94.9 -4.2 -93.2 -1.0 -94.1Z" fill="none" stroke="#000" stroke-width="2.7" stroke-linejoin="round"/></g>
<path d="M100.3 2416.5 L1350.5 2336.4 V2417.6Z" fill="url(#gd)"/>
<path d="M1350.5 2336.4 L100.3 2416.2 L1350.5 2417.8" fill="none" stroke="#000" stroke-width="5.4" stroke-linejoin="round" stroke-linecap="butt"/>
<use href="#gp" transform="translate(1425 2038.5)"/>
<use href="#rp" transform="translate(1431.5 2104)"/>
<text x="1468.5" y="2048" font-size="33" textLength="192.5" lengthAdjust="spacingAndGlyphs" stroke="#000" stroke-width="0.9">anti-apoptotic</text>
<text x="1469" y="2112.8" font-size="32" textLength="130.5" lengthAdjust="spacingAndGlyphs" stroke="#000" stroke-width="0.9">BH3-only</text>
<text x="292" y="2457.6" font-size="33" textLength="143.5" lengthAdjust="spacingAndGlyphs">Unprimed</text>
<text x="1237" y="2457.6" font-size="33" textLength="105.5" lengthAdjust="spacingAndGlyphs">Primed</text>
</g>
<g id="labels">
<g font-weight="bold">
<text transform="translate(18.5 37.4) scale(1.03 1)" font-size="53.2">A</text>
<text transform="translate(56.9 915.6) scale(0.98 1)" font-size="53.5">B</text>
<text transform="translate(-5.3 1460) scale(1 1)" font-size="60.5">C</text>
<text transform="translate(8.6 2006.7) scale(0.96 1)" font-size="60.4">D</text>
</g>
</g>
</svg>
</body>
</html>
